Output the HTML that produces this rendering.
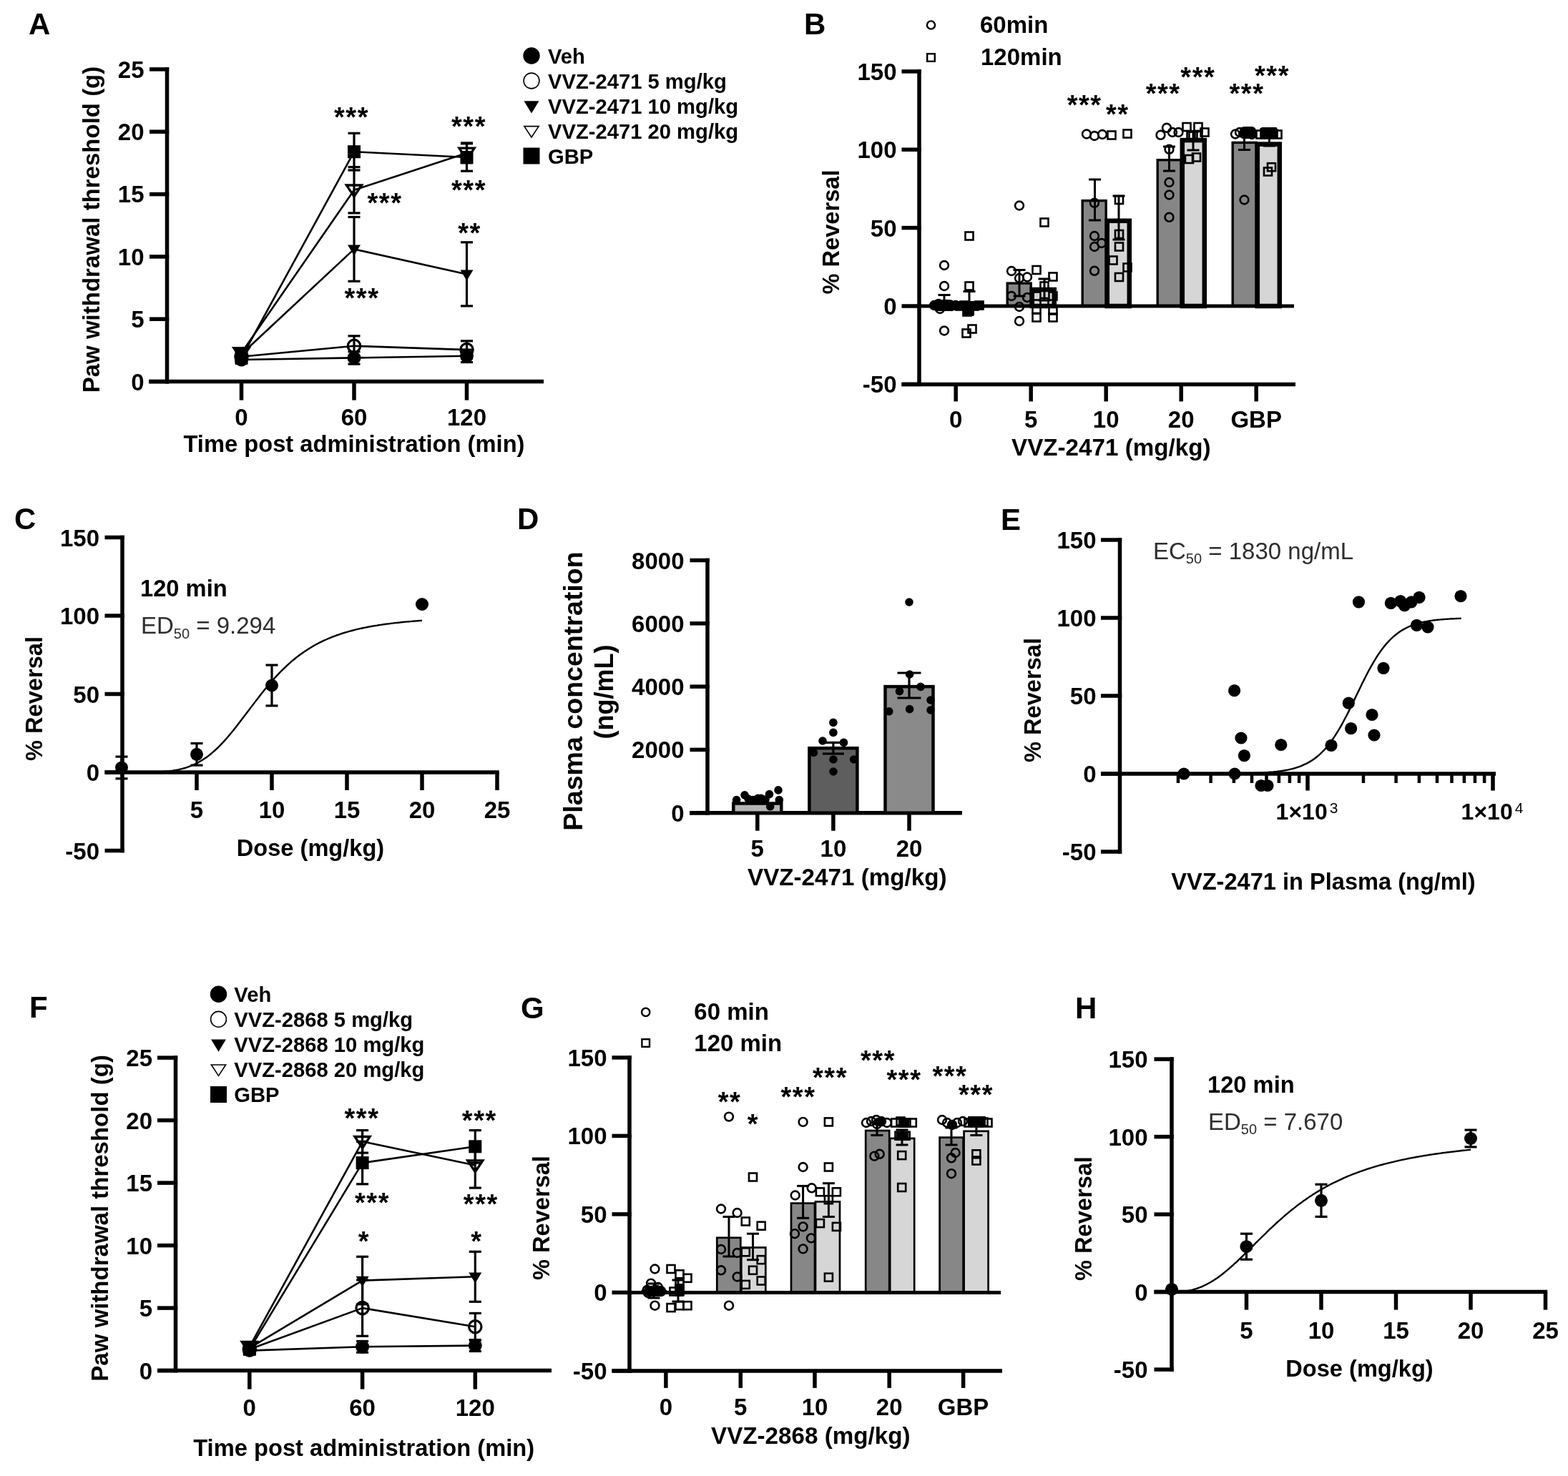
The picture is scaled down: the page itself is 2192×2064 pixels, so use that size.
<!DOCTYPE html>
<html><head><meta charset="utf-8"><title>Figure</title>
<style>html,body{margin:0;padding:0;background:#fff;}svg{display:block;filter:blur(0.55px);}</style></head>
<body><svg width="2192" height="2064" viewBox="0 0 2192 2064">
<rect width="2192" height="2064" fill="#fff"/>
<text x="40.0" y="47.5" text-anchor="start" style="font-family:'Liberation Sans',Arial,sans-serif;font-weight:bold;font-size:42px" fill="#000">A</text>
<line x1="233.5" y1="94.1" x2="233.5" y2="536.4" stroke="#000" stroke-width="5.5" stroke-linecap="butt"/>
<line x1="209.0" y1="533.6" x2="236.2" y2="533.6" stroke="#000" stroke-width="5.5" stroke-linecap="butt"/>
<text x="201.5" y="545.5" text-anchor="end" style="font-family:'Liberation Sans',Arial,sans-serif;font-weight:bold;font-size:33px" fill="#000">0</text>
<line x1="209.0" y1="446.2" x2="236.2" y2="446.2" stroke="#000" stroke-width="5.5" stroke-linecap="butt"/>
<text x="201.5" y="458.1" text-anchor="end" style="font-family:'Liberation Sans',Arial,sans-serif;font-weight:bold;font-size:33px" fill="#000">5</text>
<line x1="209.0" y1="358.9" x2="236.2" y2="358.9" stroke="#000" stroke-width="5.5" stroke-linecap="butt"/>
<text x="201.5" y="370.8" text-anchor="end" style="font-family:'Liberation Sans',Arial,sans-serif;font-weight:bold;font-size:33px" fill="#000">10</text>
<line x1="209.0" y1="271.6" x2="236.2" y2="271.6" stroke="#000" stroke-width="5.5" stroke-linecap="butt"/>
<text x="201.5" y="283.4" text-anchor="end" style="font-family:'Liberation Sans',Arial,sans-serif;font-weight:bold;font-size:33px" fill="#000">15</text>
<line x1="209.0" y1="184.2" x2="236.2" y2="184.2" stroke="#000" stroke-width="5.5" stroke-linecap="butt"/>
<text x="201.5" y="196.1" text-anchor="end" style="font-family:'Liberation Sans',Arial,sans-serif;font-weight:bold;font-size:33px" fill="#000">20</text>
<line x1="209.0" y1="96.9" x2="236.2" y2="96.9" stroke="#000" stroke-width="5.5" stroke-linecap="butt"/>
<text x="201.5" y="108.7" text-anchor="end" style="font-family:'Liberation Sans',Arial,sans-serif;font-weight:bold;font-size:33px" fill="#000">25</text>
<line x1="208.0" y1="533.6" x2="760.0" y2="533.6" stroke="#000" stroke-width="5.5" stroke-linecap="butt"/>
<line x1="337.5" y1="533.6" x2="337.5" y2="559.6" stroke="#000" stroke-width="5.5" stroke-linecap="butt"/>
<text x="337.5" y="595.0" text-anchor="middle" style="font-family:'Liberation Sans',Arial,sans-serif;font-weight:bold;font-size:33px" fill="#000">0</text>
<line x1="495.0" y1="533.6" x2="495.0" y2="559.6" stroke="#000" stroke-width="5.5" stroke-linecap="butt"/>
<text x="495.0" y="595.0" text-anchor="middle" style="font-family:'Liberation Sans',Arial,sans-serif;font-weight:bold;font-size:33px" fill="#000">60</text>
<line x1="652.5" y1="533.6" x2="652.5" y2="559.6" stroke="#000" stroke-width="5.5" stroke-linecap="butt"/>
<text x="652.5" y="595.0" text-anchor="middle" style="font-family:'Liberation Sans',Arial,sans-serif;font-weight:bold;font-size:33px" fill="#000">120</text>
<text x="495.0" y="632.0" text-anchor="middle" style="font-family:'Liberation Sans',Arial,sans-serif;font-weight:bold;font-size:32.7px" fill="#000">Time post administration (min)</text>
<text x="139.0" y="321.0" text-anchor="middle" style="font-family:'Liberation Sans',Arial,sans-serif;font-weight:bold;font-size:33px" fill="#000" transform="rotate(-90 139.0 321.0)">Paw withdrawal threshold (g)</text>
<circle cx="743.0" cy="78.0" r="11.7" fill="#000"/>
<text x="766.0" y="88.5" text-anchor="start" style="font-family:'Liberation Sans',Arial,sans-serif;font-weight:bold;font-size:29.2px" fill="#000">Veh</text>
<circle cx="743.0" cy="113.0" r="10.9" fill="none" stroke="#000" stroke-width="1.6"/>
<text x="766.0" y="123.5" text-anchor="start" style="font-family:'Liberation Sans',Arial,sans-serif;font-weight:bold;font-size:29.2px" fill="#000">VVZ-2471 5 mg/kg</text>
<polygon points="732.5,141.2 753.5,141.2 743.0,158.4" fill="#000"/>
<text x="766.0" y="158.5" text-anchor="start" style="font-family:'Liberation Sans',Arial,sans-serif;font-weight:bold;font-size:29.2px" fill="#000">VVZ-2471 10 mg/kg</text>
<polygon points="732.9,176.6 753.1,176.6 743.0,192.0" fill="none" stroke="#000" stroke-width="1.6" stroke-linejoin="miter"/>
<text x="766.0" y="193.5" text-anchor="start" style="font-family:'Liberation Sans',Arial,sans-serif;font-weight:bold;font-size:29.2px" fill="#000">VVZ-2471 20 mg/kg</text>
<rect x="731.5" y="206.5" width="23.0" height="23.0" fill="#000"/>
<text x="766.0" y="228.5" text-anchor="start" style="font-family:'Liberation Sans',Arial,sans-serif;font-weight:bold;font-size:29.2px" fill="#000">GBP</text>
<polyline points="337.5,503.0 495.0,500.4 652.5,497.8" fill="none" stroke="#000" stroke-width="2.6" stroke-linejoin="round"/>
<polyline points="337.5,498.7 495.0,483.8 652.5,489.1" fill="none" stroke="#000" stroke-width="2.6" stroke-linejoin="round"/>
<polyline points="337.5,495.2 495.0,348.4 652.5,383.4" fill="none" stroke="#000" stroke-width="2.6" stroke-linejoin="round"/>
<polyline points="337.5,493.4 495.0,265.8 652.5,213.9" fill="none" stroke="#000" stroke-width="2.6" stroke-linejoin="round"/>
<polyline points="337.5,500.4 495.0,212.2 652.5,220.0" fill="none" stroke="#000" stroke-width="2.6" stroke-linejoin="round"/>
<line x1="337.5" y1="497.8" x2="337.5" y2="508.3" stroke="#000" stroke-width="3.2" stroke-linecap="butt"/>
<line x1="329.0" y1="497.8" x2="346.0" y2="497.8" stroke="#000" stroke-width="3.2" stroke-linecap="butt"/>
<line x1="329.0" y1="508.3" x2="346.0" y2="508.3" stroke="#000" stroke-width="3.2" stroke-linecap="butt"/>
<line x1="495.0" y1="491.7" x2="495.0" y2="509.1" stroke="#000" stroke-width="3.2" stroke-linecap="butt"/>
<line x1="486.5" y1="491.7" x2="503.5" y2="491.7" stroke="#000" stroke-width="3.2" stroke-linecap="butt"/>
<line x1="486.5" y1="509.1" x2="503.5" y2="509.1" stroke="#000" stroke-width="3.2" stroke-linecap="butt"/>
<line x1="652.5" y1="489.1" x2="652.5" y2="506.5" stroke="#000" stroke-width="3.2" stroke-linecap="butt"/>
<line x1="644.0" y1="489.1" x2="661.0" y2="489.1" stroke="#000" stroke-width="3.2" stroke-linecap="butt"/>
<line x1="644.0" y1="506.5" x2="661.0" y2="506.5" stroke="#000" stroke-width="3.2" stroke-linecap="butt"/>
<line x1="337.5" y1="493.4" x2="337.5" y2="503.9" stroke="#000" stroke-width="3.2" stroke-linecap="butt"/>
<line x1="329.0" y1="493.4" x2="346.0" y2="493.4" stroke="#000" stroke-width="3.2" stroke-linecap="butt"/>
<line x1="329.0" y1="503.9" x2="346.0" y2="503.9" stroke="#000" stroke-width="3.2" stroke-linecap="butt"/>
<line x1="495.0" y1="469.8" x2="495.0" y2="497.8" stroke="#000" stroke-width="3.2" stroke-linecap="butt"/>
<line x1="486.5" y1="469.8" x2="503.5" y2="469.8" stroke="#000" stroke-width="3.2" stroke-linecap="butt"/>
<line x1="486.5" y1="497.8" x2="503.5" y2="497.8" stroke="#000" stroke-width="3.2" stroke-linecap="butt"/>
<line x1="652.5" y1="476.8" x2="652.5" y2="501.3" stroke="#000" stroke-width="3.2" stroke-linecap="butt"/>
<line x1="644.0" y1="476.8" x2="661.0" y2="476.8" stroke="#000" stroke-width="3.2" stroke-linecap="butt"/>
<line x1="644.0" y1="501.3" x2="661.0" y2="501.3" stroke="#000" stroke-width="3.2" stroke-linecap="butt"/>
<line x1="337.5" y1="489.9" x2="337.5" y2="500.4" stroke="#000" stroke-width="3.2" stroke-linecap="butt"/>
<line x1="329.0" y1="489.9" x2="346.0" y2="489.9" stroke="#000" stroke-width="3.2" stroke-linecap="butt"/>
<line x1="329.0" y1="500.4" x2="346.0" y2="500.4" stroke="#000" stroke-width="3.2" stroke-linecap="butt"/>
<line x1="495.0" y1="303.5" x2="495.0" y2="393.3" stroke="#000" stroke-width="3.2" stroke-linecap="butt"/>
<line x1="486.5" y1="303.5" x2="503.5" y2="303.5" stroke="#000" stroke-width="3.2" stroke-linecap="butt"/>
<line x1="486.5" y1="393.3" x2="503.5" y2="393.3" stroke="#000" stroke-width="3.2" stroke-linecap="butt"/>
<line x1="652.5" y1="338.8" x2="652.5" y2="427.9" stroke="#000" stroke-width="3.2" stroke-linecap="butt"/>
<line x1="644.0" y1="338.8" x2="661.0" y2="338.8" stroke="#000" stroke-width="3.2" stroke-linecap="butt"/>
<line x1="644.0" y1="427.9" x2="661.0" y2="427.9" stroke="#000" stroke-width="3.2" stroke-linecap="butt"/>
<line x1="337.5" y1="488.2" x2="337.5" y2="498.7" stroke="#000" stroke-width="3.2" stroke-linecap="butt"/>
<line x1="329.0" y1="488.2" x2="346.0" y2="488.2" stroke="#000" stroke-width="3.2" stroke-linecap="butt"/>
<line x1="329.0" y1="498.7" x2="346.0" y2="498.7" stroke="#000" stroke-width="3.2" stroke-linecap="butt"/>
<line x1="495.0" y1="233.6" x2="495.0" y2="297.9" stroke="#000" stroke-width="3.2" stroke-linecap="butt"/>
<line x1="486.5" y1="233.6" x2="503.5" y2="233.6" stroke="#000" stroke-width="3.2" stroke-linecap="butt"/>
<line x1="486.5" y1="297.9" x2="503.5" y2="297.9" stroke="#000" stroke-width="3.2" stroke-linecap="butt"/>
<line x1="652.5" y1="199.9" x2="652.5" y2="227.9" stroke="#000" stroke-width="3.2" stroke-linecap="butt"/>
<line x1="644.0" y1="199.9" x2="661.0" y2="199.9" stroke="#000" stroke-width="3.2" stroke-linecap="butt"/>
<line x1="644.0" y1="227.9" x2="661.0" y2="227.9" stroke="#000" stroke-width="3.2" stroke-linecap="butt"/>
<line x1="337.5" y1="495.2" x2="337.5" y2="505.6" stroke="#000" stroke-width="3.2" stroke-linecap="butt"/>
<line x1="329.0" y1="495.2" x2="346.0" y2="495.2" stroke="#000" stroke-width="3.2" stroke-linecap="butt"/>
<line x1="329.0" y1="505.6" x2="346.0" y2="505.6" stroke="#000" stroke-width="3.2" stroke-linecap="butt"/>
<line x1="495.0" y1="186.3" x2="495.0" y2="238.0" stroke="#000" stroke-width="3.2" stroke-linecap="butt"/>
<line x1="486.5" y1="186.3" x2="503.5" y2="186.3" stroke="#000" stroke-width="3.2" stroke-linecap="butt"/>
<line x1="486.5" y1="238.0" x2="503.5" y2="238.0" stroke="#000" stroke-width="3.2" stroke-linecap="butt"/>
<line x1="652.5" y1="200.8" x2="652.5" y2="239.2" stroke="#000" stroke-width="3.2" stroke-linecap="butt"/>
<line x1="644.0" y1="200.8" x2="661.0" y2="200.8" stroke="#000" stroke-width="3.2" stroke-linecap="butt"/>
<line x1="644.0" y1="239.2" x2="661.0" y2="239.2" stroke="#000" stroke-width="3.2" stroke-linecap="butt"/>
<circle cx="337.5" cy="503.0" r="9.5" fill="#000"/>
<circle cx="495.0" cy="500.4" r="9.5" fill="#000"/>
<circle cx="652.5" cy="497.8" r="9.5" fill="#000"/>
<circle cx="337.5" cy="498.7" r="8.7" fill="none" stroke="#000" stroke-width="3.2"/>
<circle cx="495.0" cy="483.8" r="8.7" fill="none" stroke="#000" stroke-width="3.2"/>
<circle cx="652.5" cy="489.1" r="8.7" fill="none" stroke="#000" stroke-width="3.2"/>
<polygon points="328.5,489.3 346.5,489.3 337.5,504.2" fill="#000"/>
<polygon points="486.0,342.5 504.0,342.5 495.0,357.4" fill="#000"/>
<polygon points="643.5,377.5 661.5,377.5 652.5,392.4" fill="#000"/>
<polygon points="326.9,486.6 348.1,486.6 337.5,502.5" fill="none" stroke="#000" stroke-width="3.3" stroke-linejoin="miter"/>
<polygon points="484.4,259.0 505.6,259.0 495.0,274.9" fill="none" stroke="#000" stroke-width="3.3" stroke-linejoin="miter"/>
<polygon points="641.9,207.1 663.1,207.1 652.5,223.0" fill="none" stroke="#000" stroke-width="3.3" stroke-linejoin="miter"/>
<rect x="328.5" y="491.4" width="18.0" height="18.0" fill="#000"/>
<rect x="486.0" y="203.2" width="18.0" height="18.0" fill="#000"/>
<rect x="643.5" y="211.0" width="18.0" height="18.0" fill="#000"/>
<text x="491.5" y="177.4" text-anchor="middle" style="font-family:'Liberation Sans',Arial,sans-serif;font-weight:bold;font-size:38px" fill="#000" letter-spacing="1.5">***</text>
<text x="538.0" y="297.3" text-anchor="middle" style="font-family:'Liberation Sans',Arial,sans-serif;font-weight:bold;font-size:38px" fill="#000" letter-spacing="1.5">***</text>
<text x="506.0" y="429.8" text-anchor="middle" style="font-family:'Liberation Sans',Arial,sans-serif;font-weight:bold;font-size:38px" fill="#000" letter-spacing="1.5">***</text>
<text x="655.5" y="189.9" text-anchor="middle" style="font-family:'Liberation Sans',Arial,sans-serif;font-weight:bold;font-size:38px" fill="#000" letter-spacing="1.5">***</text>
<text x="655.5" y="279.3" text-anchor="middle" style="font-family:'Liberation Sans',Arial,sans-serif;font-weight:bold;font-size:38px" fill="#000" letter-spacing="1.5">***</text>
<text x="656.5" y="338.6" text-anchor="middle" style="font-family:'Liberation Sans',Arial,sans-serif;font-weight:bold;font-size:38px" fill="#000" letter-spacing="1.5">**</text>
<text x="1124.0" y="47.5" text-anchor="start" style="font-family:'Liberation Sans',Arial,sans-serif;font-weight:bold;font-size:42px" fill="#000">B</text>
<circle cx="1301.5" cy="35.0" r="5.6" fill="none" stroke="#000" stroke-width="2.4"/>
<text x="1370.0" y="45.5" text-anchor="start" style="font-family:'Liberation Sans',Arial,sans-serif;font-weight:bold;font-size:33px" fill="#000">60min</text>
<rect x="1296.2" y="75.2" width="10.6" height="10.6" fill="none" stroke="#000" stroke-width="2.4"/>
<text x="1371.0" y="91.0" text-anchor="start" style="font-family:'Liberation Sans',Arial,sans-serif;font-weight:bold;font-size:33px" fill="#000">120min</text>
<line x1="1285.0" y1="97.1" x2="1285.0" y2="540.1" stroke="#000" stroke-width="5.5" stroke-linecap="butt"/>
<line x1="1260.5" y1="99.9" x2="1287.8" y2="99.9" stroke="#000" stroke-width="5.5" stroke-linecap="butt"/>
<text x="1253.5" y="111.9" text-anchor="end" style="font-family:'Liberation Sans',Arial,sans-serif;font-weight:bold;font-size:33px" fill="#000">150</text>
<line x1="1260.5" y1="209.2" x2="1287.8" y2="209.2" stroke="#000" stroke-width="5.5" stroke-linecap="butt"/>
<text x="1253.5" y="221.2" text-anchor="end" style="font-family:'Liberation Sans',Arial,sans-serif;font-weight:bold;font-size:33px" fill="#000">100</text>
<line x1="1260.5" y1="318.6" x2="1287.8" y2="318.6" stroke="#000" stroke-width="5.5" stroke-linecap="butt"/>
<text x="1253.5" y="330.6" text-anchor="end" style="font-family:'Liberation Sans',Arial,sans-serif;font-weight:bold;font-size:33px" fill="#000">50</text>
<line x1="1260.5" y1="428.0" x2="1287.8" y2="428.0" stroke="#000" stroke-width="5.5" stroke-linecap="butt"/>
<text x="1253.5" y="440.0" text-anchor="end" style="font-family:'Liberation Sans',Arial,sans-serif;font-weight:bold;font-size:33px" fill="#000">0</text>
<line x1="1260.5" y1="537.4" x2="1287.8" y2="537.4" stroke="#000" stroke-width="5.5" stroke-linecap="butt"/>
<text x="1253.5" y="549.4" text-anchor="end" style="font-family:'Liberation Sans',Arial,sans-serif;font-weight:bold;font-size:33px" fill="#000">-50</text>
<line x1="1260.5" y1="537.4" x2="1811.0" y2="537.4" stroke="#000" stroke-width="5.5" stroke-linecap="butt"/>
<line x1="1336.2" y1="537.4" x2="1336.2" y2="561.4" stroke="#000" stroke-width="5.5" stroke-linecap="butt"/>
<text x="1336.2" y="597.5" text-anchor="middle" style="font-family:'Liberation Sans',Arial,sans-serif;font-weight:bold;font-size:33px" fill="#000">0</text>
<line x1="1441.2" y1="537.4" x2="1441.2" y2="561.4" stroke="#000" stroke-width="5.5" stroke-linecap="butt"/>
<text x="1441.2" y="597.5" text-anchor="middle" style="font-family:'Liberation Sans',Arial,sans-serif;font-weight:bold;font-size:33px" fill="#000">5</text>
<line x1="1546.2" y1="537.4" x2="1546.2" y2="561.4" stroke="#000" stroke-width="5.5" stroke-linecap="butt"/>
<text x="1546.2" y="597.5" text-anchor="middle" style="font-family:'Liberation Sans',Arial,sans-serif;font-weight:bold;font-size:33px" fill="#000">10</text>
<line x1="1651.2" y1="537.4" x2="1651.2" y2="561.4" stroke="#000" stroke-width="5.5" stroke-linecap="butt"/>
<text x="1651.2" y="597.5" text-anchor="middle" style="font-family:'Liberation Sans',Arial,sans-serif;font-weight:bold;font-size:33px" fill="#000">20</text>
<line x1="1756.2" y1="537.4" x2="1756.2" y2="561.4" stroke="#000" stroke-width="5.5" stroke-linecap="butt"/>
<text x="1756.2" y="597.5" text-anchor="middle" style="font-family:'Liberation Sans',Arial,sans-serif;font-weight:bold;font-size:33px" fill="#000">GBP</text>
<rect x="1303.2" y="424.7" width="33.0" height="3.3" fill="#868686" stroke="#000" stroke-width="3.4"/>
<rect x="1337.8" y="426.9" width="31.0" height="1.1" fill="#d6d6d6" stroke="#000" stroke-width="6.5"/>
<rect x="1408.2" y="396.1" width="33.0" height="31.9" fill="#868686" stroke="#000" stroke-width="3.4"/>
<rect x="1442.8" y="405.0" width="31.0" height="23.0" fill="#d6d6d6" stroke="#000" stroke-width="6.5"/>
<rect x="1513.2" y="280.6" width="33.0" height="147.4" fill="#868686" stroke="#000" stroke-width="3.4"/>
<rect x="1547.8" y="308.8" width="31.0" height="119.2" fill="#d6d6d6" stroke="#000" stroke-width="6.5"/>
<rect x="1618.2" y="223.7" width="33.0" height="204.3" fill="#868686" stroke="#000" stroke-width="3.4"/>
<rect x="1652.8" y="196.1" width="31.0" height="231.9" fill="#d6d6d6" stroke="#000" stroke-width="6.5"/>
<rect x="1723.2" y="199.4" width="33.0" height="228.6" fill="#868686" stroke="#000" stroke-width="3.4"/>
<rect x="1757.8" y="201.6" width="31.0" height="226.4" fill="#d6d6d6" stroke="#000" stroke-width="6.5"/>
<line x1="1285.0" y1="428.0" x2="1809.0" y2="428.0" stroke="#000" stroke-width="5" stroke-linecap="butt"/>
<rect x="1303" y="419" width="32" height="16" rx="7" fill="#000"/>
<rect x="1337" y="421" width="37" height="12" rx="2" fill="#000"/>
<rect x="1346" y="431" width="16" height="11" rx="2" fill="#000"/>
<rect x="1733" y="177" width="23" height="17" rx="6" fill="#000"/>
<rect x="1763" y="178" width="22" height="16" rx="1" fill="#000"/>
<circle cx="1320.0" cy="371.0" r="5.9" fill="none" stroke="#000" stroke-width="2.6"/>
<circle cx="1320.0" cy="400.0" r="5.9" fill="none" stroke="#000" stroke-width="2.6"/>
<circle cx="1320.0" cy="462.5" r="5.9" fill="none" stroke="#000" stroke-width="2.6"/>
<circle cx="1306.0" cy="427.0" r="5.9" fill="none" stroke="#000" stroke-width="2.6"/>
<circle cx="1312.0" cy="425.0" r="5.9" fill="none" stroke="#000" stroke-width="2.6"/>
<circle cx="1318.0" cy="428.0" r="5.9" fill="none" stroke="#000" stroke-width="2.6"/>
<circle cx="1324.0" cy="426.0" r="5.9" fill="none" stroke="#000" stroke-width="2.6"/>
<circle cx="1330.0" cy="428.0" r="5.9" fill="none" stroke="#000" stroke-width="2.6"/>
<circle cx="1336.0" cy="427.0" r="5.9" fill="none" stroke="#000" stroke-width="2.6"/>
<circle cx="1314.0" cy="432.0" r="5.9" fill="none" stroke="#000" stroke-width="2.6"/>
<circle cx="1425.0" cy="287.5" r="5.9" fill="none" stroke="#000" stroke-width="2.6"/>
<circle cx="1414.0" cy="379.0" r="5.9" fill="none" stroke="#000" stroke-width="2.6"/>
<circle cx="1425.0" cy="389.0" r="5.9" fill="none" stroke="#000" stroke-width="2.6"/>
<circle cx="1436.0" cy="387.5" r="5.9" fill="none" stroke="#000" stroke-width="2.6"/>
<circle cx="1414.0" cy="414.0" r="5.9" fill="none" stroke="#000" stroke-width="2.6"/>
<circle cx="1436.0" cy="416.0" r="5.9" fill="none" stroke="#000" stroke-width="2.6"/>
<circle cx="1425.0" cy="429.0" r="5.9" fill="none" stroke="#000" stroke-width="2.6"/>
<circle cx="1425.0" cy="449.0" r="5.9" fill="none" stroke="#000" stroke-width="2.6"/>
<circle cx="1519.0" cy="187.5" r="5.9" fill="none" stroke="#000" stroke-width="2.6"/>
<circle cx="1530.0" cy="190.0" r="5.9" fill="none" stroke="#000" stroke-width="2.6"/>
<circle cx="1541.0" cy="188.0" r="5.9" fill="none" stroke="#000" stroke-width="2.6"/>
<circle cx="1530.0" cy="283.8" r="5.9" fill="none" stroke="#000" stroke-width="2.6"/>
<circle cx="1530.0" cy="330.0" r="5.9" fill="none" stroke="#000" stroke-width="2.6"/>
<circle cx="1540.0" cy="340.0" r="5.9" fill="none" stroke="#000" stroke-width="2.6"/>
<circle cx="1530.0" cy="345.0" r="5.9" fill="none" stroke="#000" stroke-width="2.6"/>
<circle cx="1530.0" cy="378.8" r="5.9" fill="none" stroke="#000" stroke-width="2.6"/>
<circle cx="1622.5" cy="188.8" r="5.9" fill="none" stroke="#000" stroke-width="2.6"/>
<circle cx="1631.0" cy="178.8" r="5.9" fill="none" stroke="#000" stroke-width="2.6"/>
<circle cx="1639.0" cy="185.0" r="5.9" fill="none" stroke="#000" stroke-width="2.6"/>
<circle cx="1647.5" cy="185.0" r="5.9" fill="none" stroke="#000" stroke-width="2.6"/>
<circle cx="1634.5" cy="208.8" r="5.9" fill="none" stroke="#000" stroke-width="2.6"/>
<circle cx="1634.5" cy="255.0" r="5.9" fill="none" stroke="#000" stroke-width="2.6"/>
<circle cx="1634.5" cy="272.5" r="5.9" fill="none" stroke="#000" stroke-width="2.6"/>
<circle cx="1634.5" cy="303.8" r="5.9" fill="none" stroke="#000" stroke-width="2.6"/>
<circle cx="1727.0" cy="187.5" r="5.9" fill="none" stroke="#000" stroke-width="2.6"/>
<circle cx="1733.0" cy="185.0" r="5.9" fill="none" stroke="#000" stroke-width="2.6"/>
<circle cx="1739.0" cy="187.0" r="5.9" fill="none" stroke="#000" stroke-width="2.6"/>
<circle cx="1745.0" cy="185.0" r="5.9" fill="none" stroke="#000" stroke-width="2.6"/>
<circle cx="1750.0" cy="188.0" r="5.9" fill="none" stroke="#000" stroke-width="2.6"/>
<circle cx="1739.5" cy="279.5" r="5.9" fill="none" stroke="#000" stroke-width="2.6"/>
<rect x="1349.5" y="324.5" width="11.0" height="11.0" fill="none" stroke="#000" stroke-width="2.6"/>
<rect x="1349.5" y="394.5" width="11.0" height="11.0" fill="none" stroke="#000" stroke-width="2.6"/>
<rect x="1345.5" y="460.5" width="11.0" height="11.0" fill="none" stroke="#000" stroke-width="2.6"/>
<rect x="1353.5" y="454.5" width="11.0" height="11.0" fill="none" stroke="#000" stroke-width="2.6"/>
<rect x="1336.5" y="422.5" width="11.0" height="11.0" fill="none" stroke="#000" stroke-width="2.6"/>
<rect x="1342.5" y="421.5" width="11.0" height="11.0" fill="none" stroke="#000" stroke-width="2.6"/>
<rect x="1349.5" y="426.5" width="11.0" height="11.0" fill="none" stroke="#000" stroke-width="2.6"/>
<rect x="1356.5" y="422.5" width="11.0" height="11.0" fill="none" stroke="#000" stroke-width="2.6"/>
<rect x="1363.5" y="421.5" width="11.0" height="11.0" fill="none" stroke="#000" stroke-width="2.6"/>
<rect x="1346.5" y="430.5" width="11.0" height="11.0" fill="none" stroke="#000" stroke-width="2.6"/>
<rect x="1454.5" y="305.5" width="11.0" height="11.0" fill="none" stroke="#000" stroke-width="2.6"/>
<rect x="1443.5" y="372.0" width="11.0" height="11.0" fill="none" stroke="#000" stroke-width="2.6"/>
<rect x="1466.5" y="381.5" width="11.0" height="11.0" fill="none" stroke="#000" stroke-width="2.6"/>
<rect x="1454.5" y="394.5" width="11.0" height="11.0" fill="none" stroke="#000" stroke-width="2.6"/>
<rect x="1443.5" y="408.5" width="11.0" height="11.0" fill="none" stroke="#000" stroke-width="2.6"/>
<rect x="1466.5" y="408.5" width="11.0" height="11.0" fill="none" stroke="#000" stroke-width="2.6"/>
<rect x="1454.5" y="417.0" width="11.0" height="11.0" fill="none" stroke="#000" stroke-width="2.6"/>
<rect x="1443.5" y="427.0" width="11.0" height="11.0" fill="none" stroke="#000" stroke-width="2.6"/>
<rect x="1466.5" y="428.5" width="11.0" height="11.0" fill="none" stroke="#000" stroke-width="2.6"/>
<rect x="1443.5" y="438.5" width="11.0" height="11.0" fill="none" stroke="#000" stroke-width="2.6"/>
<rect x="1466.5" y="438.5" width="11.0" height="11.0" fill="none" stroke="#000" stroke-width="2.6"/>
<rect x="1548.5" y="183.5" width="11.0" height="11.0" fill="none" stroke="#000" stroke-width="2.6"/>
<rect x="1570.5" y="181.5" width="11.0" height="11.0" fill="none" stroke="#000" stroke-width="2.6"/>
<rect x="1559.0" y="274.0" width="11.0" height="11.0" fill="none" stroke="#000" stroke-width="2.6"/>
<rect x="1559.0" y="322.0" width="11.0" height="11.0" fill="none" stroke="#000" stroke-width="2.6"/>
<rect x="1559.0" y="339.5" width="11.0" height="11.0" fill="none" stroke="#000" stroke-width="2.6"/>
<rect x="1550.5" y="358.5" width="11.0" height="11.0" fill="none" stroke="#000" stroke-width="2.6"/>
<rect x="1570.5" y="368.5" width="11.0" height="11.0" fill="none" stroke="#000" stroke-width="2.6"/>
<rect x="1559.0" y="382.0" width="11.0" height="11.0" fill="none" stroke="#000" stroke-width="2.6"/>
<rect x="1653.5" y="172.0" width="11.0" height="11.0" fill="none" stroke="#000" stroke-width="2.6"/>
<rect x="1669.5" y="172.0" width="11.0" height="11.0" fill="none" stroke="#000" stroke-width="2.6"/>
<rect x="1659.5" y="183.2" width="11.0" height="11.0" fill="none" stroke="#000" stroke-width="2.6"/>
<rect x="1669.5" y="183.2" width="11.0" height="11.0" fill="none" stroke="#000" stroke-width="2.6"/>
<rect x="1678.5" y="179.5" width="11.0" height="11.0" fill="none" stroke="#000" stroke-width="2.6"/>
<rect x="1657.0" y="217.0" width="11.0" height="11.0" fill="none" stroke="#000" stroke-width="2.6"/>
<rect x="1667.0" y="214.5" width="11.0" height="11.0" fill="none" stroke="#000" stroke-width="2.6"/>
<rect x="1662.5" y="184.5" width="11.0" height="11.0" fill="none" stroke="#000" stroke-width="2.6"/>
<rect x="1756.5" y="182.5" width="11.0" height="11.0" fill="none" stroke="#000" stroke-width="2.6"/>
<rect x="1762.5" y="180.5" width="11.0" height="11.0" fill="none" stroke="#000" stroke-width="2.6"/>
<rect x="1768.5" y="182.5" width="11.0" height="11.0" fill="none" stroke="#000" stroke-width="2.6"/>
<rect x="1774.5" y="181.5" width="11.0" height="11.0" fill="none" stroke="#000" stroke-width="2.6"/>
<rect x="1780.5" y="182.5" width="11.0" height="11.0" fill="none" stroke="#000" stroke-width="2.6"/>
<rect x="1767.0" y="234.5" width="11.0" height="11.0" fill="none" stroke="#000" stroke-width="2.6"/>
<rect x="1772.0" y="228.2" width="11.0" height="11.0" fill="none" stroke="#000" stroke-width="2.6"/>
<line x1="1320.0" y1="412.5" x2="1320.0" y2="431.0" stroke="#000" stroke-width="3" stroke-linecap="butt"/>
<line x1="1311.5" y1="412.5" x2="1328.5" y2="412.5" stroke="#000" stroke-width="3" stroke-linecap="butt"/>
<line x1="1311.5" y1="431.0" x2="1328.5" y2="431.0" stroke="#000" stroke-width="3" stroke-linecap="butt"/>
<line x1="1355.0" y1="407.5" x2="1355.0" y2="430.0" stroke="#000" stroke-width="3" stroke-linecap="butt"/>
<line x1="1346.5" y1="407.5" x2="1363.5" y2="407.5" stroke="#000" stroke-width="3" stroke-linecap="butt"/>
<line x1="1346.5" y1="430.0" x2="1363.5" y2="430.0" stroke="#000" stroke-width="3" stroke-linecap="butt"/>
<line x1="1425.0" y1="377.5" x2="1425.0" y2="414.0" stroke="#000" stroke-width="3" stroke-linecap="butt"/>
<line x1="1416.5" y1="377.5" x2="1433.5" y2="377.5" stroke="#000" stroke-width="3" stroke-linecap="butt"/>
<line x1="1416.5" y1="414.0" x2="1433.5" y2="414.0" stroke="#000" stroke-width="3" stroke-linecap="butt"/>
<line x1="1460.0" y1="390.0" x2="1460.0" y2="420.0" stroke="#000" stroke-width="3" stroke-linecap="butt"/>
<line x1="1451.5" y1="390.0" x2="1468.5" y2="390.0" stroke="#000" stroke-width="3" stroke-linecap="butt"/>
<line x1="1451.5" y1="420.0" x2="1468.5" y2="420.0" stroke="#000" stroke-width="3" stroke-linecap="butt"/>
<line x1="1530.5" y1="251.0" x2="1530.5" y2="308.0" stroke="#000" stroke-width="3" stroke-linecap="butt"/>
<line x1="1522.0" y1="251.0" x2="1539.0" y2="251.0" stroke="#000" stroke-width="3" stroke-linecap="butt"/>
<line x1="1522.0" y1="308.0" x2="1539.0" y2="308.0" stroke="#000" stroke-width="3" stroke-linecap="butt"/>
<line x1="1564.0" y1="274.0" x2="1564.0" y2="335.0" stroke="#000" stroke-width="3" stroke-linecap="butt"/>
<line x1="1555.5" y1="274.0" x2="1572.5" y2="274.0" stroke="#000" stroke-width="3" stroke-linecap="butt"/>
<line x1="1555.5" y1="335.0" x2="1572.5" y2="335.0" stroke="#000" stroke-width="3" stroke-linecap="butt"/>
<line x1="1634.5" y1="205.0" x2="1634.5" y2="239.0" stroke="#000" stroke-width="3" stroke-linecap="butt"/>
<line x1="1626.0" y1="205.0" x2="1643.0" y2="205.0" stroke="#000" stroke-width="3" stroke-linecap="butt"/>
<line x1="1626.0" y1="239.0" x2="1643.0" y2="239.0" stroke="#000" stroke-width="3" stroke-linecap="butt"/>
<line x1="1668.0" y1="184.0" x2="1668.0" y2="210.0" stroke="#000" stroke-width="3" stroke-linecap="butt"/>
<line x1="1659.5" y1="184.0" x2="1676.5" y2="184.0" stroke="#000" stroke-width="3" stroke-linecap="butt"/>
<line x1="1659.5" y1="210.0" x2="1676.5" y2="210.0" stroke="#000" stroke-width="3" stroke-linecap="butt"/>
<line x1="1739.5" y1="187.5" x2="1739.5" y2="209.5" stroke="#000" stroke-width="3" stroke-linecap="butt"/>
<line x1="1731.0" y1="187.5" x2="1748.0" y2="187.5" stroke="#000" stroke-width="3" stroke-linecap="butt"/>
<line x1="1731.0" y1="209.5" x2="1748.0" y2="209.5" stroke="#000" stroke-width="3" stroke-linecap="butt"/>
<line x1="1774.5" y1="188.0" x2="1774.5" y2="204.0" stroke="#000" stroke-width="3" stroke-linecap="butt"/>
<line x1="1766.0" y1="188.0" x2="1783.0" y2="188.0" stroke="#000" stroke-width="3" stroke-linecap="butt"/>
<line x1="1766.0" y1="204.0" x2="1783.0" y2="204.0" stroke="#000" stroke-width="3" stroke-linecap="butt"/>
<text x="1516.1" y="159.9" text-anchor="middle" style="font-family:'Liberation Sans',Arial,sans-serif;font-weight:bold;font-size:38px" fill="#000" letter-spacing="1.5">***</text>
<text x="1562.2" y="172.9" text-anchor="middle" style="font-family:'Liberation Sans',Arial,sans-serif;font-weight:bold;font-size:38px" fill="#000" letter-spacing="1.5">**</text>
<text x="1626.1" y="144.2" text-anchor="middle" style="font-family:'Liberation Sans',Arial,sans-serif;font-weight:bold;font-size:38px" fill="#000" letter-spacing="1.5">***</text>
<text x="1674.8" y="120.5" text-anchor="middle" style="font-family:'Liberation Sans',Arial,sans-serif;font-weight:bold;font-size:38px" fill="#000" letter-spacing="1.5">***</text>
<text x="1743.0" y="144.2" text-anchor="middle" style="font-family:'Liberation Sans',Arial,sans-serif;font-weight:bold;font-size:38px" fill="#000" letter-spacing="1.5">***</text>
<text x="1778.5" y="119.2" text-anchor="middle" style="font-family:'Liberation Sans',Arial,sans-serif;font-weight:bold;font-size:38px" fill="#000" letter-spacing="1.5">***</text>
<text x="1414.0" y="637.0" text-anchor="start" style="font-family:'Liberation Sans',Arial,sans-serif;font-weight:bold;font-size:33.2px" fill="#000">VVZ-2471 (mg/kg)</text>
<text x="1173.0" y="324.5" text-anchor="middle" style="font-family:'Liberation Sans',Arial,sans-serif;font-weight:bold;font-size:32.6px" fill="#000" transform="rotate(-90 1173.0 324.5)">% Reversal</text>
<text x="20.0" y="740.0" text-anchor="start" style="font-family:'Liberation Sans',Arial,sans-serif;font-weight:bold;font-size:42px" fill="#000">C</text>
<line x1="171.0" y1="748.8" x2="171.0" y2="1192.2" stroke="#000" stroke-width="5.5" stroke-linecap="butt"/>
<line x1="146.5" y1="751.5" x2="173.8" y2="751.5" stroke="#000" stroke-width="5.5" stroke-linecap="butt"/>
<text x="139.0" y="763.5" text-anchor="end" style="font-family:'Liberation Sans',Arial,sans-serif;font-weight:bold;font-size:33px" fill="#000">150</text>
<line x1="146.5" y1="861.0" x2="173.8" y2="861.0" stroke="#000" stroke-width="5.5" stroke-linecap="butt"/>
<text x="139.0" y="873.0" text-anchor="end" style="font-family:'Liberation Sans',Arial,sans-serif;font-weight:bold;font-size:33px" fill="#000">100</text>
<line x1="146.5" y1="970.5" x2="173.8" y2="970.5" stroke="#000" stroke-width="5.5" stroke-linecap="butt"/>
<text x="139.0" y="982.5" text-anchor="end" style="font-family:'Liberation Sans',Arial,sans-serif;font-weight:bold;font-size:33px" fill="#000">50</text>
<line x1="146.5" y1="1080.0" x2="173.8" y2="1080.0" stroke="#000" stroke-width="5.5" stroke-linecap="butt"/>
<text x="139.0" y="1092.0" text-anchor="end" style="font-family:'Liberation Sans',Arial,sans-serif;font-weight:bold;font-size:33px" fill="#000">0</text>
<line x1="146.5" y1="1189.5" x2="173.8" y2="1189.5" stroke="#000" stroke-width="5.5" stroke-linecap="butt"/>
<text x="139.0" y="1201.5" text-anchor="end" style="font-family:'Liberation Sans',Arial,sans-serif;font-weight:bold;font-size:33px" fill="#000">-50</text>
<line x1="146.5" y1="1080.0" x2="697.8" y2="1080.0" stroke="#000" stroke-width="5.5" stroke-linecap="butt"/>
<line x1="275.0" y1="1080.0" x2="275.0" y2="1105.0" stroke="#000" stroke-width="5.5" stroke-linecap="butt"/>
<text x="275.0" y="1144.0" text-anchor="middle" style="font-family:'Liberation Sans',Arial,sans-serif;font-weight:bold;font-size:33px" fill="#000">5</text>
<line x1="380.0" y1="1080.0" x2="380.0" y2="1105.0" stroke="#000" stroke-width="5.5" stroke-linecap="butt"/>
<text x="380.0" y="1144.0" text-anchor="middle" style="font-family:'Liberation Sans',Arial,sans-serif;font-weight:bold;font-size:33px" fill="#000">10</text>
<line x1="485.0" y1="1080.0" x2="485.0" y2="1105.0" stroke="#000" stroke-width="5.5" stroke-linecap="butt"/>
<text x="485.0" y="1144.0" text-anchor="middle" style="font-family:'Liberation Sans',Arial,sans-serif;font-weight:bold;font-size:33px" fill="#000">15</text>
<line x1="590.0" y1="1080.0" x2="590.0" y2="1105.0" stroke="#000" stroke-width="5.5" stroke-linecap="butt"/>
<text x="590.0" y="1144.0" text-anchor="middle" style="font-family:'Liberation Sans',Arial,sans-serif;font-weight:bold;font-size:33px" fill="#000">20</text>
<line x1="695.0" y1="1080.0" x2="695.0" y2="1105.0" stroke="#000" stroke-width="5.5" stroke-linecap="butt"/>
<text x="695.0" y="1144.0" text-anchor="middle" style="font-family:'Liberation Sans',Arial,sans-serif;font-weight:bold;font-size:33px" fill="#000">25</text>
<polyline points="212.0,1079.8 214.1,1079.7 216.2,1079.7 218.3,1079.6 220.4,1079.5 222.5,1079.4 224.6,1079.3 226.7,1079.2 228.8,1079.0 230.9,1078.8 233.0,1078.7 235.1,1078.4 237.2,1078.2 239.3,1077.9 241.4,1077.7 243.5,1077.3 245.6,1077.0 247.7,1076.6 249.8,1076.2 251.9,1075.7 254.0,1075.2 256.1,1074.6 258.2,1074.0 260.3,1073.4 262.4,1072.7 264.5,1071.9 266.6,1071.1 268.7,1070.3 270.8,1069.3 272.9,1068.4 275.0,1067.3 277.1,1066.2 279.2,1065.0 281.3,1063.8 283.4,1062.5 285.5,1061.1 287.6,1059.7 289.7,1058.2 291.8,1056.6 293.9,1054.9 296.0,1053.2 298.1,1051.4 300.2,1049.5 302.3,1047.6 304.4,1045.6 306.5,1043.5 308.6,1041.3 310.7,1039.1 312.8,1036.9 314.9,1034.6 317.0,1032.2 319.1,1029.8 321.2,1027.3 323.3,1024.8 325.4,1022.2 327.5,1019.6 329.6,1016.9 331.7,1014.3 333.8,1011.6 335.9,1008.8 338.0,1006.1 340.1,1003.3 342.2,1000.6 344.3,997.8 346.4,995.0 348.5,992.2 350.6,989.4 352.7,986.7 354.8,983.9 356.9,981.1 359.0,978.4 361.1,975.7 363.2,973.0 365.3,970.3 367.4,967.7 369.5,965.1 371.6,962.5 373.7,960.0 375.8,957.5 377.9,955.0 380.0,952.6 382.1,950.2 384.2,947.9 386.3,945.6 388.4,943.4 390.5,941.2 392.6,939.0 394.7,936.9 396.8,934.8 398.9,932.8 401.0,930.9 403.1,928.9 405.2,927.1 407.3,925.2 409.4,923.4 411.5,921.7 413.6,920.0 415.7,918.4 417.8,916.8 419.9,915.2 422.0,913.7 424.1,912.2 426.2,910.8 428.3,909.4 430.4,908.0 432.5,906.7 434.6,905.4 436.7,904.1 438.8,902.9 440.9,901.8 443.0,900.6 445.1,899.5 447.2,898.4 449.3,897.4 451.4,896.4 453.5,895.4 455.6,894.5 457.7,893.5 459.8,892.6 461.9,891.8 464.0,890.9 466.1,890.1 468.2,889.3 470.3,888.5 472.4,887.8 474.5,887.1 476.6,886.4 478.7,885.7 480.8,885.0 482.9,884.4 485.0,883.8 487.1,883.2 489.2,882.6 491.3,882.0 493.4,881.5 495.5,880.9 497.6,880.4 499.7,879.9 501.8,879.4 503.9,878.9 506.0,878.5 508.1,878.0 510.2,877.6 512.3,877.2 514.4,876.8 516.5,876.4 518.6,876.0 520.7,875.6 522.8,875.3 524.9,874.9 527.0,874.6 529.1,874.2 531.2,873.9 533.3,873.6 535.4,873.3 537.5,873.0 539.6,872.7 541.7,872.4 543.8,872.2 545.9,871.9 548.0,871.6 550.1,871.4 552.2,871.1 554.3,870.9 556.4,870.7 558.5,870.5 560.6,870.2 562.7,870.0 564.8,869.8 566.9,869.6 569.0,869.4 571.1,869.2 573.2,869.1 575.3,868.9 577.4,868.7 579.5,868.5 581.6,868.4 583.7,868.2 585.8,868.0 587.9,867.9 590.0,867.7" fill="none" stroke="#000" stroke-width="2.4" stroke-linejoin="round"/>
<line x1="170.0" y1="1058.1" x2="170.0" y2="1088.8" stroke="#000" stroke-width="3.2" stroke-linecap="butt"/>
<line x1="161.5" y1="1058.1" x2="178.5" y2="1058.1" stroke="#000" stroke-width="3.2" stroke-linecap="butt"/>
<line x1="161.5" y1="1088.8" x2="178.5" y2="1088.8" stroke="#000" stroke-width="3.2" stroke-linecap="butt"/>
<circle cx="170.0" cy="1073.4" r="9.0" fill="#000"/>
<line x1="275.0" y1="1039.5" x2="275.0" y2="1070.1" stroke="#000" stroke-width="3.2" stroke-linecap="butt"/>
<line x1="266.5" y1="1039.5" x2="283.5" y2="1039.5" stroke="#000" stroke-width="3.2" stroke-linecap="butt"/>
<line x1="266.5" y1="1070.1" x2="283.5" y2="1070.1" stroke="#000" stroke-width="3.2" stroke-linecap="butt"/>
<circle cx="275.0" cy="1054.8" r="9.0" fill="#000"/>
<line x1="380.0" y1="930.0" x2="380.0" y2="986.9" stroke="#000" stroke-width="3.2" stroke-linecap="butt"/>
<line x1="371.5" y1="930.0" x2="388.5" y2="930.0" stroke="#000" stroke-width="3.2" stroke-linecap="butt"/>
<line x1="371.5" y1="986.9" x2="388.5" y2="986.9" stroke="#000" stroke-width="3.2" stroke-linecap="butt"/>
<circle cx="380.0" cy="958.5" r="9.0" fill="#000"/>
<line x1="590.0" y1="845.0" x2="590.0" y2="845.0" stroke="#000" stroke-width="3.2" stroke-linecap="butt"/>
<line x1="581.5" y1="845.0" x2="598.5" y2="845.0" stroke="#000" stroke-width="3.2" stroke-linecap="butt"/>
<line x1="581.5" y1="845.0" x2="598.5" y2="845.0" stroke="#000" stroke-width="3.2" stroke-linecap="butt"/>
<circle cx="590.0" cy="845.0" r="9.0" fill="#000"/>
<text x="434.0" y="1197.0" text-anchor="middle" style="font-family:'Liberation Sans',Arial,sans-serif;font-weight:bold;font-size:32.6px" fill="#000">Dose (mg/kg)</text>
<text x="59.0" y="977.0" text-anchor="middle" style="font-family:'Liberation Sans',Arial,sans-serif;font-weight:bold;font-size:32.6px" fill="#000" transform="rotate(-90 59.0 977.0)">% Reversal</text>
<text x="196.0" y="834.0" text-anchor="start" style="font-family:'Liberation Sans',Arial,sans-serif;font-weight:bold;font-size:32.7px" fill="#000">120 min</text>
<text x="197" y="886" style="font-family:'Liberation Sans',Arial,sans-serif;font-weight:normal;font-size:33px" fill="#2e2e2e">ED<tspan font-size="20" dy="6.5">50</tspan><tspan dy="-6.5"> = 9.294</tspan></text>
<text x="723.0" y="740.0" text-anchor="start" style="font-family:'Liberation Sans',Arial,sans-serif;font-weight:bold;font-size:42px" fill="#000">D</text>
<line x1="989.0" y1="780.8" x2="989.0" y2="1139.5" stroke="#000" stroke-width="5.5" stroke-linecap="butt"/>
<line x1="964.5" y1="1136.7" x2="991.8" y2="1136.7" stroke="#000" stroke-width="5.5" stroke-linecap="butt"/>
<text x="956.5" y="1148.7" text-anchor="end" style="font-family:'Liberation Sans',Arial,sans-serif;font-weight:bold;font-size:33px" fill="#000">0</text>
<line x1="964.5" y1="1048.4" x2="991.8" y2="1048.4" stroke="#000" stroke-width="5.5" stroke-linecap="butt"/>
<text x="956.5" y="1060.4" text-anchor="end" style="font-family:'Liberation Sans',Arial,sans-serif;font-weight:bold;font-size:33px" fill="#000">2000</text>
<line x1="964.5" y1="960.1" x2="991.8" y2="960.1" stroke="#000" stroke-width="5.5" stroke-linecap="butt"/>
<text x="956.5" y="972.1" text-anchor="end" style="font-family:'Liberation Sans',Arial,sans-serif;font-weight:bold;font-size:33px" fill="#000">4000</text>
<line x1="964.5" y1="871.8" x2="991.8" y2="871.8" stroke="#000" stroke-width="5.5" stroke-linecap="butt"/>
<text x="956.5" y="883.8" text-anchor="end" style="font-family:'Liberation Sans',Arial,sans-serif;font-weight:bold;font-size:33px" fill="#000">6000</text>
<line x1="964.5" y1="783.5" x2="991.8" y2="783.5" stroke="#000" stroke-width="5.5" stroke-linecap="butt"/>
<text x="956.5" y="795.5" text-anchor="end" style="font-family:'Liberation Sans',Arial,sans-serif;font-weight:bold;font-size:33px" fill="#000">8000</text>
<line x1="964.0" y1="1136.7" x2="1345.0" y2="1136.7" stroke="#000" stroke-width="5.5" stroke-linecap="butt"/>
<line x1="1058.8" y1="1136.7" x2="1058.8" y2="1161.7" stroke="#000" stroke-width="5.5" stroke-linecap="butt"/>
<text x="1058.8" y="1197.5" text-anchor="middle" style="font-family:'Liberation Sans',Arial,sans-serif;font-weight:bold;font-size:33px" fill="#000">5</text>
<line x1="1164.9" y1="1136.7" x2="1164.9" y2="1161.7" stroke="#000" stroke-width="5.5" stroke-linecap="butt"/>
<text x="1164.9" y="1197.5" text-anchor="middle" style="font-family:'Liberation Sans',Arial,sans-serif;font-weight:bold;font-size:33px" fill="#000">10</text>
<line x1="1271.0" y1="1136.7" x2="1271.0" y2="1161.7" stroke="#000" stroke-width="5.5" stroke-linecap="butt"/>
<text x="1271.0" y="1197.5" text-anchor="middle" style="font-family:'Liberation Sans',Arial,sans-serif;font-weight:bold;font-size:33px" fill="#000">20</text>
<rect x="1025.3" y="1123.5" width="67" height="13.2" fill="#b4b4b4" stroke="#000" stroke-width="4.5"/>
<rect x="1131.4" y="1046.2" width="67" height="90.5" fill="#5e5e5e" stroke="#000" stroke-width="4.5"/>
<rect x="1237.5" y="960.1" width="67" height="176.6" fill="#8a8a8a" stroke="#000" stroke-width="4.5"/>
<line x1="1164.9" y1="1038.4" x2="1164.9" y2="1054.0" stroke="#000" stroke-width="3.2" stroke-linecap="butt"/>
<line x1="1149.9" y1="1038.4" x2="1179.9" y2="1038.4" stroke="#000" stroke-width="3.2" stroke-linecap="butt"/>
<line x1="1149.9" y1="1054.0" x2="1179.9" y2="1054.0" stroke="#000" stroke-width="3.2" stroke-linecap="butt"/>
<line x1="1271.0" y1="941.0" x2="1271.0" y2="976.0" stroke="#000" stroke-width="3.2" stroke-linecap="butt"/>
<line x1="1254.5" y1="941.0" x2="1287.5" y2="941.0" stroke="#000" stroke-width="3.2" stroke-linecap="butt"/>
<line x1="1254.5" y1="976.0" x2="1287.5" y2="976.0" stroke="#000" stroke-width="3.2" stroke-linecap="butt"/>
<circle cx="1029.6" cy="1118.6" r="5.8" fill="#000"/>
<circle cx="1041.0" cy="1111.8" r="5.8" fill="#000"/>
<circle cx="1052.6" cy="1118.6" r="5.8" fill="#000"/>
<circle cx="1064.0" cy="1116.3" r="5.8" fill="#000"/>
<circle cx="1075.5" cy="1110.6" r="5.8" fill="#000"/>
<circle cx="1088.0" cy="1104.9" r="5.8" fill="#000"/>
<circle cx="1076.7" cy="1127.8" r="5.8" fill="#000"/>
<circle cx="1089.3" cy="1118.6" r="5.8" fill="#000"/>
<circle cx="1059.5" cy="1116.3" r="5.8" fill="#000"/>
<circle cx="1046.0" cy="1117.0" r="5.8" fill="#000"/>
<circle cx="1070.0" cy="1118.0" r="5.8" fill="#000"/>
<circle cx="1164.9" cy="1010.4" r="5.8" fill="#000"/>
<circle cx="1164.9" cy="1024.4" r="5.8" fill="#000"/>
<circle cx="1150.0" cy="1036.0" r="5.8" fill="#000"/>
<circle cx="1179.5" cy="1038.4" r="5.8" fill="#000"/>
<circle cx="1137.4" cy="1052.5" r="5.8" fill="#000"/>
<circle cx="1165.0" cy="1062.0" r="5.8" fill="#000"/>
<circle cx="1193.6" cy="1062.0" r="5.8" fill="#000"/>
<circle cx="1165.0" cy="1079.0" r="5.8" fill="#000"/>
<circle cx="1271.0" cy="842.0" r="5.8" fill="#000"/>
<circle cx="1271.6" cy="943.0" r="5.8" fill="#000"/>
<circle cx="1257.5" cy="966.7" r="5.8" fill="#000"/>
<circle cx="1287.0" cy="960.4" r="5.8" fill="#000"/>
<circle cx="1301.0" cy="979.0" r="5.8" fill="#000"/>
<circle cx="1242.8" cy="994.8" r="5.8" fill="#000"/>
<circle cx="1271.6" cy="991.6" r="5.8" fill="#000"/>
<circle cx="1301.0" cy="993.0" r="5.8" fill="#000"/>
<text x="1045.0" y="1238.4" text-anchor="start" style="font-family:'Liberation Sans',Arial,sans-serif;font-weight:bold;font-size:33.2px" fill="#000">VVZ-2471 (mg/kg)</text>
<text x="813.5" y="966.5" text-anchor="middle" style="font-family:'Liberation Sans',Arial,sans-serif;font-weight:bold;font-size:37.6px" fill="#000" transform="rotate(-90 813.5 966.5)">Plasma concentration</text>
<text x="857.5" y="967.4" text-anchor="middle" style="font-family:'Liberation Sans',Arial,sans-serif;font-weight:bold;font-size:36px" fill="#000" transform="rotate(-90 857.5 967.4)">(ng/mL)</text>
<text x="1399.0" y="741.0" text-anchor="start" style="font-family:'Liberation Sans',Arial,sans-serif;font-weight:bold;font-size:42px" fill="#000">E</text>
<line x1="1565.5" y1="752.2" x2="1565.5" y2="1193.8" stroke="#000" stroke-width="5.5" stroke-linecap="butt"/>
<line x1="1539.0" y1="755.0" x2="1568.2" y2="755.0" stroke="#000" stroke-width="5.5" stroke-linecap="butt"/>
<text x="1532.5" y="767.0" text-anchor="end" style="font-family:'Liberation Sans',Arial,sans-serif;font-weight:bold;font-size:33px" fill="#000">150</text>
<line x1="1539.0" y1="864.0" x2="1568.2" y2="864.0" stroke="#000" stroke-width="5.5" stroke-linecap="butt"/>
<text x="1532.5" y="876.0" text-anchor="end" style="font-family:'Liberation Sans',Arial,sans-serif;font-weight:bold;font-size:33px" fill="#000">100</text>
<line x1="1539.0" y1="973.0" x2="1568.2" y2="973.0" stroke="#000" stroke-width="5.5" stroke-linecap="butt"/>
<text x="1532.5" y="985.0" text-anchor="end" style="font-family:'Liberation Sans',Arial,sans-serif;font-weight:bold;font-size:33px" fill="#000">50</text>
<line x1="1539.0" y1="1082.0" x2="1568.2" y2="1082.0" stroke="#000" stroke-width="5.5" stroke-linecap="butt"/>
<text x="1532.5" y="1094.0" text-anchor="end" style="font-family:'Liberation Sans',Arial,sans-serif;font-weight:bold;font-size:33px" fill="#000">0</text>
<line x1="1539.0" y1="1191.0" x2="1568.2" y2="1191.0" stroke="#000" stroke-width="5.5" stroke-linecap="butt"/>
<text x="1532.5" y="1203.0" text-anchor="end" style="font-family:'Liberation Sans',Arial,sans-serif;font-weight:bold;font-size:33px" fill="#000">-50</text>
<line x1="1539.0" y1="1082.0" x2="2091.0" y2="1082.0" stroke="#000" stroke-width="5.5" stroke-linecap="butt"/>
<line x1="1647.0" y1="1082.0" x2="1647.0" y2="1095.0" stroke="#000" stroke-width="4.5" stroke-linecap="butt"/>
<line x1="1692.6" y1="1082.0" x2="1692.6" y2="1095.0" stroke="#000" stroke-width="4.5" stroke-linecap="butt"/>
<line x1="1724.9" y1="1082.0" x2="1724.9" y2="1095.0" stroke="#000" stroke-width="4.5" stroke-linecap="butt"/>
<line x1="1750.0" y1="1082.0" x2="1750.0" y2="1095.0" stroke="#000" stroke-width="4.5" stroke-linecap="butt"/>
<line x1="1770.5" y1="1082.0" x2="1770.5" y2="1095.0" stroke="#000" stroke-width="4.5" stroke-linecap="butt"/>
<line x1="1787.9" y1="1082.0" x2="1787.9" y2="1095.0" stroke="#000" stroke-width="4.5" stroke-linecap="butt"/>
<line x1="1802.9" y1="1082.0" x2="1802.9" y2="1095.0" stroke="#000" stroke-width="4.5" stroke-linecap="butt"/>
<line x1="1816.1" y1="1082.0" x2="1816.1" y2="1095.0" stroke="#000" stroke-width="4.5" stroke-linecap="butt"/>
<line x1="1906.0" y1="1082.0" x2="1906.0" y2="1095.0" stroke="#000" stroke-width="4.5" stroke-linecap="butt"/>
<line x1="1951.6" y1="1082.0" x2="1951.6" y2="1095.0" stroke="#000" stroke-width="4.5" stroke-linecap="butt"/>
<line x1="1983.9" y1="1082.0" x2="1983.9" y2="1095.0" stroke="#000" stroke-width="4.5" stroke-linecap="butt"/>
<line x1="2009.0" y1="1082.0" x2="2009.0" y2="1095.0" stroke="#000" stroke-width="4.5" stroke-linecap="butt"/>
<line x1="2029.5" y1="1082.0" x2="2029.5" y2="1095.0" stroke="#000" stroke-width="4.5" stroke-linecap="butt"/>
<line x1="2046.9" y1="1082.0" x2="2046.9" y2="1095.0" stroke="#000" stroke-width="4.5" stroke-linecap="butt"/>
<line x1="2061.9" y1="1082.0" x2="2061.9" y2="1095.0" stroke="#000" stroke-width="4.5" stroke-linecap="butt"/>
<line x1="2075.1" y1="1082.0" x2="2075.1" y2="1095.0" stroke="#000" stroke-width="4.5" stroke-linecap="butt"/>
<line x1="1828.0" y1="1082.0" x2="1828.0" y2="1105.5" stroke="#000" stroke-width="5.5" stroke-linecap="butt"/>
<line x1="2087.0" y1="1082.0" x2="2087.0" y2="1105.5" stroke="#000" stroke-width="5.5" stroke-linecap="butt"/>
<text x="1827.0" y="1145.5" text-anchor="middle" style="font-family:'Liberation Sans',Arial,sans-serif;font-weight:bold;font-size:32px">1×10<tspan font-size="21" dy="-9" dx="3" style="font-weight:normal">3</tspan></text>
<text x="2086.0" y="1145.5" text-anchor="middle" style="font-family:'Liberation Sans',Arial,sans-serif;font-weight:bold;font-size:32px">1×10<tspan font-size="21" dy="-9" dx="3" style="font-weight:normal">4</tspan></text>
<polyline points="1635.1,1082.0 1637.3,1082.0 1639.6,1082.0 1641.8,1082.0 1644.0,1082.0 1646.3,1082.0 1648.5,1082.0 1650.7,1082.0 1652.9,1082.0 1655.2,1082.0 1657.4,1082.0 1659.6,1082.0 1661.8,1082.0 1664.1,1082.0 1666.3,1082.0 1668.5,1082.0 1670.8,1082.0 1673.0,1082.0 1675.2,1082.0 1677.4,1081.9 1679.7,1081.9 1681.9,1081.9 1684.1,1081.9 1686.3,1081.9 1688.6,1081.9 1690.8,1081.9 1693.0,1081.9 1695.3,1081.9 1697.5,1081.9 1699.7,1081.9 1701.9,1081.9 1704.2,1081.9 1706.4,1081.8 1708.6,1081.8 1710.8,1081.8 1713.1,1081.8 1715.3,1081.8 1717.5,1081.8 1719.8,1081.7 1722.0,1081.7 1724.2,1081.7 1726.4,1081.7 1728.7,1081.6 1730.9,1081.6 1733.1,1081.6 1735.4,1081.5 1737.6,1081.5 1739.8,1081.4 1742.0,1081.4 1744.3,1081.3 1746.5,1081.3 1748.7,1081.2 1750.9,1081.2 1753.2,1081.1 1755.4,1081.0 1757.6,1080.9 1759.9,1080.8 1762.1,1080.7 1764.3,1080.6 1766.5,1080.5 1768.8,1080.3 1771.0,1080.2 1773.2,1080.0 1775.4,1079.8 1777.7,1079.7 1779.9,1079.5 1782.1,1079.2 1784.4,1079.0 1786.6,1078.7 1788.8,1078.4 1791.0,1078.1 1793.3,1077.8 1795.5,1077.4 1797.7,1077.0 1799.9,1076.6 1802.2,1076.1 1804.4,1075.6 1806.6,1075.1 1808.9,1074.5 1811.1,1073.8 1813.3,1073.1 1815.5,1072.4 1817.8,1071.6 1820.0,1070.7 1822.2,1069.7 1824.4,1068.7 1826.7,1067.6 1828.9,1066.4 1831.1,1065.1 1833.4,1063.8 1835.6,1062.3 1837.8,1060.7 1840.0,1059.0 1842.3,1057.2 1844.5,1055.3 1846.7,1053.2 1849.0,1051.0 1851.2,1048.7 1853.4,1046.2 1855.6,1043.6 1857.9,1040.8 1860.1,1037.9 1862.3,1034.8 1864.5,1031.6 1866.8,1028.2 1869.0,1024.7 1871.2,1021.0 1873.5,1017.2 1875.7,1013.3 1877.9,1009.2 1880.1,1005.0 1882.4,1000.7 1884.6,996.4 1886.8,991.9 1889.0,987.4 1891.3,982.8 1893.5,978.2 1895.7,973.5 1898.0,968.9 1900.2,964.3 1902.4,959.7 1904.6,955.1 1906.9,950.6 1909.1,946.2 1911.3,941.9 1913.5,937.7 1915.8,933.6 1918.0,929.6 1920.2,925.8 1922.5,922.1 1924.7,918.5 1926.9,915.1 1929.1,911.9 1931.4,908.8 1933.6,905.8 1935.8,903.0 1938.0,900.4 1940.3,897.9 1942.5,895.5 1944.7,893.3 1947.0,891.2 1949.2,889.2 1951.4,887.4 1953.6,885.7 1955.9,884.1 1958.1,882.6 1960.3,881.2 1962.5,879.9 1964.8,878.7 1967.0,877.5 1969.2,876.5 1971.5,875.5 1973.7,874.6 1975.9,873.8 1978.1,873.0 1980.4,872.3 1982.6,871.7 1984.8,871.1 1987.1,870.5 1989.3,870.0 1991.5,869.5 1993.7,869.1 1996.0,868.7 1998.2,868.3 2000.4,867.9 2002.6,867.6 2004.9,867.3 2007.1,867.1 2009.3,866.8 2011.6,866.6 2013.8,866.4 2016.0,866.2 2018.2,866.0 2020.5,865.9 2022.7,865.7 2024.9,865.6 2027.1,865.4 2029.4,865.3 2031.6,865.2 2033.8,865.1 2036.1,865.0 2038.3,864.9 2040.5,864.9 2042.7,864.8" fill="none" stroke="#000" stroke-width="2.4" stroke-linejoin="round"/>
<circle cx="1655.0" cy="1082.0" r="8.6" fill="#000"/>
<circle cx="1725.6" cy="965.7" r="8.6" fill="#000"/>
<circle cx="1726.0" cy="1082.0" r="8.6" fill="#000"/>
<circle cx="1735.0" cy="1032.0" r="8.6" fill="#000"/>
<circle cx="1739.4" cy="1056.6" r="8.6" fill="#000"/>
<circle cx="1763.0" cy="1098.5" r="8.6" fill="#000"/>
<circle cx="1772.0" cy="1098.5" r="8.6" fill="#000"/>
<circle cx="1790.8" cy="1041.5" r="8.6" fill="#000"/>
<circle cx="1861.0" cy="1042.3" r="8.6" fill="#000"/>
<circle cx="1885.3" cy="983.2" r="8.6" fill="#000"/>
<circle cx="1888.6" cy="1018.7" r="8.6" fill="#000"/>
<circle cx="1899.5" cy="841.8" r="8.6" fill="#000"/>
<circle cx="1918.0" cy="999.5" r="8.6" fill="#000"/>
<circle cx="1921.0" cy="1028.0" r="8.6" fill="#000"/>
<circle cx="1934.0" cy="934.3" r="8.6" fill="#000"/>
<circle cx="1944.4" cy="843.4" r="8.6" fill="#000"/>
<circle cx="1957.8" cy="840.6" r="8.6" fill="#000"/>
<circle cx="1963.5" cy="846.7" r="8.6" fill="#000"/>
<circle cx="1973.0" cy="841.8" r="8.6" fill="#000"/>
<circle cx="1984.0" cy="835.3" r="8.6" fill="#000"/>
<circle cx="1980.5" cy="874.3" r="8.6" fill="#000"/>
<circle cx="1996.0" cy="876.8" r="8.6" fill="#000"/>
<circle cx="2042.0" cy="833.7" r="8.6" fill="#000"/>
<text x="1612" y="781.5" style="font-family:'Liberation Sans',Arial,sans-serif;font-weight:normal;font-size:33px" fill="#2e2e2e">EC<tspan font-size="20" dy="6.5">50</tspan><tspan dy="-6.5"> = 1830 ng/mL</tspan></text>
<text x="1850.0" y="1244.0" text-anchor="middle" style="font-family:'Liberation Sans',Arial,sans-serif;font-weight:bold;font-size:32.6px" fill="#000">VVZ-2471 in Plasma (ng/ml)</text>
<text x="1455.0" y="979.0" text-anchor="middle" style="font-family:'Liberation Sans',Arial,sans-serif;font-weight:bold;font-size:32.6px" fill="#000" transform="rotate(-90 1455.0 979.0)">% Reversal</text>
<text x="41.0" y="1423.0" text-anchor="start" style="font-family:'Liberation Sans',Arial,sans-serif;font-weight:bold;font-size:42px" fill="#000">F</text>
<line x1="245.5" y1="1476.3" x2="245.5" y2="1919.3" stroke="#000" stroke-width="5.5" stroke-linecap="butt"/>
<line x1="220.0" y1="1916.6" x2="248.2" y2="1916.6" stroke="#000" stroke-width="5.5" stroke-linecap="butt"/>
<text x="213.0" y="1928.5" text-anchor="end" style="font-family:'Liberation Sans',Arial,sans-serif;font-weight:bold;font-size:33px" fill="#000">0</text>
<line x1="220.0" y1="1829.1" x2="248.2" y2="1829.1" stroke="#000" stroke-width="5.5" stroke-linecap="butt"/>
<text x="213.0" y="1841.0" text-anchor="end" style="font-family:'Liberation Sans',Arial,sans-serif;font-weight:bold;font-size:33px" fill="#000">5</text>
<line x1="220.0" y1="1741.6" x2="248.2" y2="1741.6" stroke="#000" stroke-width="5.5" stroke-linecap="butt"/>
<text x="213.0" y="1753.5" text-anchor="end" style="font-family:'Liberation Sans',Arial,sans-serif;font-weight:bold;font-size:33px" fill="#000">10</text>
<line x1="220.0" y1="1654.1" x2="248.2" y2="1654.1" stroke="#000" stroke-width="5.5" stroke-linecap="butt"/>
<text x="213.0" y="1666.0" text-anchor="end" style="font-family:'Liberation Sans',Arial,sans-serif;font-weight:bold;font-size:33px" fill="#000">15</text>
<line x1="220.0" y1="1566.6" x2="248.2" y2="1566.6" stroke="#000" stroke-width="5.5" stroke-linecap="butt"/>
<text x="213.0" y="1578.5" text-anchor="end" style="font-family:'Liberation Sans',Arial,sans-serif;font-weight:bold;font-size:33px" fill="#000">20</text>
<line x1="220.0" y1="1479.1" x2="248.2" y2="1479.1" stroke="#000" stroke-width="5.5" stroke-linecap="butt"/>
<text x="213.0" y="1491.0" text-anchor="end" style="font-family:'Liberation Sans',Arial,sans-serif;font-weight:bold;font-size:33px" fill="#000">25</text>
<line x1="220.0" y1="1916.6" x2="771.0" y2="1916.6" stroke="#000" stroke-width="5.5" stroke-linecap="butt"/>
<line x1="348.8" y1="1916.6" x2="348.8" y2="1942.6" stroke="#000" stroke-width="5.5" stroke-linecap="butt"/>
<text x="348.8" y="1980.0" text-anchor="middle" style="font-family:'Liberation Sans',Arial,sans-serif;font-weight:bold;font-size:33px" fill="#000">0</text>
<line x1="506.6" y1="1916.6" x2="506.6" y2="1942.6" stroke="#000" stroke-width="5.5" stroke-linecap="butt"/>
<text x="506.6" y="1980.0" text-anchor="middle" style="font-family:'Liberation Sans',Arial,sans-serif;font-weight:bold;font-size:33px" fill="#000">60</text>
<line x1="664.3" y1="1916.6" x2="664.3" y2="1942.6" stroke="#000" stroke-width="5.5" stroke-linecap="butt"/>
<text x="664.3" y="1980.0" text-anchor="middle" style="font-family:'Liberation Sans',Arial,sans-serif;font-weight:bold;font-size:33px" fill="#000">120</text>
<text x="508.7" y="2036.0" text-anchor="middle" style="font-family:'Liberation Sans',Arial,sans-serif;font-weight:bold;font-size:32.7px" fill="#000">Time post administration (min)</text>
<text x="151.4" y="1703.4" text-anchor="middle" style="font-family:'Liberation Sans',Arial,sans-serif;font-weight:bold;font-size:33px" fill="#000" transform="rotate(-90 151.4 1703.4)">Paw withdrawal threshold (g)</text>
<circle cx="305.5" cy="1390.3" r="11.7" fill="#000"/>
<text x="327.3" y="1400.8" text-anchor="start" style="font-family:'Liberation Sans',Arial,sans-serif;font-weight:bold;font-size:29.2px" fill="#000">Veh</text>
<circle cx="305.5" cy="1425.3" r="10.9" fill="none" stroke="#000" stroke-width="1.6"/>
<text x="327.3" y="1435.8" text-anchor="start" style="font-family:'Liberation Sans',Arial,sans-serif;font-weight:bold;font-size:29.2px" fill="#000">VVZ-2868 5 mg/kg</text>
<polygon points="295.1,1453.6 315.9,1453.6 305.5,1470.8" fill="#000"/>
<text x="327.3" y="1470.9" text-anchor="start" style="font-family:'Liberation Sans',Arial,sans-serif;font-weight:bold;font-size:29.2px" fill="#000">VVZ-2868 10 mg/kg</text>
<polygon points="295.4,1489.0 315.6,1489.0 305.5,1504.4" fill="none" stroke="#000" stroke-width="1.6" stroke-linejoin="miter"/>
<text x="327.3" y="1506.0" text-anchor="start" style="font-family:'Liberation Sans',Arial,sans-serif;font-weight:bold;font-size:29.2px" fill="#000">VVZ-2868 20 mg/kg</text>
<rect x="294.0" y="1519.0" width="23.0" height="23.0" fill="#000"/>
<text x="327.3" y="1541.0" text-anchor="start" style="font-family:'Liberation Sans',Arial,sans-serif;font-weight:bold;font-size:29.2px" fill="#000">GBP</text>
<polyline points="348.8,1888.6 506.6,1883.3 664.3,1881.6" fill="none" stroke="#000" stroke-width="2.6" stroke-linejoin="round"/>
<polyline points="348.8,1886.8 506.6,1829.1 664.3,1855.3" fill="none" stroke="#000" stroke-width="2.6" stroke-linejoin="round"/>
<polyline points="348.8,1885.1 506.6,1790.6 664.3,1785.3" fill="none" stroke="#000" stroke-width="2.6" stroke-linejoin="round"/>
<polyline points="348.8,1883.3 506.6,1596.3 664.3,1629.6" fill="none" stroke="#000" stroke-width="2.6" stroke-linejoin="round"/>
<polyline points="348.8,1886.8 506.6,1626.1 664.3,1603.3" fill="none" stroke="#000" stroke-width="2.6" stroke-linejoin="round"/>
<line x1="348.8" y1="1883.3" x2="348.8" y2="1893.8" stroke="#000" stroke-width="3.2" stroke-linecap="butt"/>
<line x1="340.3" y1="1883.3" x2="357.3" y2="1883.3" stroke="#000" stroke-width="3.2" stroke-linecap="butt"/>
<line x1="340.3" y1="1893.8" x2="357.3" y2="1893.8" stroke="#000" stroke-width="3.2" stroke-linecap="butt"/>
<line x1="506.6" y1="1875.5" x2="506.6" y2="1891.2" stroke="#000" stroke-width="3.2" stroke-linecap="butt"/>
<line x1="498.1" y1="1875.5" x2="515.1" y2="1875.5" stroke="#000" stroke-width="3.2" stroke-linecap="butt"/>
<line x1="498.1" y1="1891.2" x2="515.1" y2="1891.2" stroke="#000" stroke-width="3.2" stroke-linecap="butt"/>
<line x1="664.3" y1="1873.7" x2="664.3" y2="1889.5" stroke="#000" stroke-width="3.2" stroke-linecap="butt"/>
<line x1="655.8" y1="1873.7" x2="672.8" y2="1873.7" stroke="#000" stroke-width="3.2" stroke-linecap="butt"/>
<line x1="655.8" y1="1889.5" x2="672.8" y2="1889.5" stroke="#000" stroke-width="3.2" stroke-linecap="butt"/>
<line x1="348.8" y1="1881.6" x2="348.8" y2="1892.1" stroke="#000" stroke-width="3.2" stroke-linecap="butt"/>
<line x1="340.3" y1="1881.6" x2="357.3" y2="1881.6" stroke="#000" stroke-width="3.2" stroke-linecap="butt"/>
<line x1="340.3" y1="1892.1" x2="357.3" y2="1892.1" stroke="#000" stroke-width="3.2" stroke-linecap="butt"/>
<line x1="506.6" y1="1789.9" x2="506.6" y2="1868.3" stroke="#000" stroke-width="3.2" stroke-linecap="butt"/>
<line x1="498.1" y1="1789.9" x2="515.1" y2="1789.9" stroke="#000" stroke-width="3.2" stroke-linecap="butt"/>
<line x1="498.1" y1="1868.3" x2="515.1" y2="1868.3" stroke="#000" stroke-width="3.2" stroke-linecap="butt"/>
<line x1="664.3" y1="1836.4" x2="664.3" y2="1874.2" stroke="#000" stroke-width="3.2" stroke-linecap="butt"/>
<line x1="655.8" y1="1836.4" x2="672.8" y2="1836.4" stroke="#000" stroke-width="3.2" stroke-linecap="butt"/>
<line x1="655.8" y1="1874.2" x2="672.8" y2="1874.2" stroke="#000" stroke-width="3.2" stroke-linecap="butt"/>
<line x1="348.8" y1="1879.8" x2="348.8" y2="1890.3" stroke="#000" stroke-width="3.2" stroke-linecap="butt"/>
<line x1="340.3" y1="1879.8" x2="357.3" y2="1879.8" stroke="#000" stroke-width="3.2" stroke-linecap="butt"/>
<line x1="340.3" y1="1890.3" x2="357.3" y2="1890.3" stroke="#000" stroke-width="3.2" stroke-linecap="butt"/>
<line x1="506.6" y1="1757.3" x2="506.6" y2="1823.8" stroke="#000" stroke-width="3.2" stroke-linecap="butt"/>
<line x1="498.1" y1="1757.3" x2="515.1" y2="1757.3" stroke="#000" stroke-width="3.2" stroke-linecap="butt"/>
<line x1="498.1" y1="1823.8" x2="515.1" y2="1823.8" stroke="#000" stroke-width="3.2" stroke-linecap="butt"/>
<line x1="664.3" y1="1750.3" x2="664.3" y2="1820.3" stroke="#000" stroke-width="3.2" stroke-linecap="butt"/>
<line x1="655.8" y1="1750.3" x2="672.8" y2="1750.3" stroke="#000" stroke-width="3.2" stroke-linecap="butt"/>
<line x1="655.8" y1="1820.3" x2="672.8" y2="1820.3" stroke="#000" stroke-width="3.2" stroke-linecap="butt"/>
<line x1="348.8" y1="1878.1" x2="348.8" y2="1888.6" stroke="#000" stroke-width="3.2" stroke-linecap="butt"/>
<line x1="340.3" y1="1878.1" x2="357.3" y2="1878.1" stroke="#000" stroke-width="3.2" stroke-linecap="butt"/>
<line x1="340.3" y1="1888.6" x2="357.3" y2="1888.6" stroke="#000" stroke-width="3.2" stroke-linecap="butt"/>
<line x1="506.6" y1="1580.6" x2="506.6" y2="1612.1" stroke="#000" stroke-width="3.2" stroke-linecap="butt"/>
<line x1="498.1" y1="1580.6" x2="515.1" y2="1580.6" stroke="#000" stroke-width="3.2" stroke-linecap="butt"/>
<line x1="498.1" y1="1612.1" x2="515.1" y2="1612.1" stroke="#000" stroke-width="3.2" stroke-linecap="butt"/>
<line x1="664.3" y1="1598.1" x2="664.3" y2="1661.1" stroke="#000" stroke-width="3.2" stroke-linecap="butt"/>
<line x1="655.8" y1="1598.1" x2="672.8" y2="1598.1" stroke="#000" stroke-width="3.2" stroke-linecap="butt"/>
<line x1="655.8" y1="1661.1" x2="672.8" y2="1661.1" stroke="#000" stroke-width="3.2" stroke-linecap="butt"/>
<line x1="348.8" y1="1881.6" x2="348.8" y2="1892.1" stroke="#000" stroke-width="3.2" stroke-linecap="butt"/>
<line x1="340.3" y1="1881.6" x2="357.3" y2="1881.6" stroke="#000" stroke-width="3.2" stroke-linecap="butt"/>
<line x1="340.3" y1="1892.1" x2="357.3" y2="1892.1" stroke="#000" stroke-width="3.2" stroke-linecap="butt"/>
<line x1="506.6" y1="1596.3" x2="506.6" y2="1655.8" stroke="#000" stroke-width="3.2" stroke-linecap="butt"/>
<line x1="498.1" y1="1596.3" x2="515.1" y2="1596.3" stroke="#000" stroke-width="3.2" stroke-linecap="butt"/>
<line x1="498.1" y1="1655.8" x2="515.1" y2="1655.8" stroke="#000" stroke-width="3.2" stroke-linecap="butt"/>
<line x1="664.3" y1="1580.6" x2="664.3" y2="1626.1" stroke="#000" stroke-width="3.2" stroke-linecap="butt"/>
<line x1="655.8" y1="1580.6" x2="672.8" y2="1580.6" stroke="#000" stroke-width="3.2" stroke-linecap="butt"/>
<line x1="655.8" y1="1626.1" x2="672.8" y2="1626.1" stroke="#000" stroke-width="3.2" stroke-linecap="butt"/>
<circle cx="348.8" cy="1888.6" r="9.5" fill="#000"/>
<circle cx="506.6" cy="1883.3" r="9.5" fill="#000"/>
<circle cx="664.3" cy="1881.6" r="9.5" fill="#000"/>
<circle cx="348.8" cy="1886.8" r="8.7" fill="none" stroke="#000" stroke-width="3.2"/>
<circle cx="506.6" cy="1829.1" r="8.7" fill="none" stroke="#000" stroke-width="3.2"/>
<circle cx="664.3" cy="1855.3" r="8.7" fill="none" stroke="#000" stroke-width="3.2"/>
<polygon points="339.8,1879.2 357.8,1879.2 348.8,1894.1" fill="#000"/>
<polygon points="497.5,1784.7 515.6,1784.7 506.6,1799.6" fill="#000"/>
<polygon points="655.3,1779.5 673.3,1779.5 664.3,1794.4" fill="#000"/>
<polygon points="338.2,1876.5 359.4,1876.5 348.8,1892.5" fill="none" stroke="#000" stroke-width="3.3" stroke-linejoin="miter"/>
<polygon points="496.0,1589.5 517.1,1589.5 506.6,1605.5" fill="none" stroke="#000" stroke-width="3.3" stroke-linejoin="miter"/>
<polygon points="653.7,1622.8 674.9,1622.8 664.3,1638.7" fill="none" stroke="#000" stroke-width="3.3" stroke-linejoin="miter"/>
<rect x="339.8" y="1877.8" width="18.0" height="18.0" fill="#000"/>
<rect x="497.6" y="1617.1" width="18.0" height="18.0" fill="#000"/>
<rect x="655.3" y="1594.3" width="18.0" height="18.0" fill="#000"/>
<text x="506.0" y="1577.0" text-anchor="middle" style="font-family:'Liberation Sans',Arial,sans-serif;font-weight:bold;font-size:38px" fill="#000" letter-spacing="1.5">***</text>
<text x="520.5" y="1695.0" text-anchor="middle" style="font-family:'Liberation Sans',Arial,sans-serif;font-weight:bold;font-size:38px" fill="#000" letter-spacing="1.5">***</text>
<text x="509.0" y="1749.0" text-anchor="middle" style="font-family:'Liberation Sans',Arial,sans-serif;font-weight:bold;font-size:38px" fill="#000" letter-spacing="1.5">*</text>
<text x="670.3" y="1579.8" text-anchor="middle" style="font-family:'Liberation Sans',Arial,sans-serif;font-weight:bold;font-size:38px" fill="#000" letter-spacing="1.5">***</text>
<text x="672.3" y="1696.5" text-anchor="middle" style="font-family:'Liberation Sans',Arial,sans-serif;font-weight:bold;font-size:38px" fill="#000" letter-spacing="1.5">***</text>
<text x="666.5" y="1749.0" text-anchor="middle" style="font-family:'Liberation Sans',Arial,sans-serif;font-weight:bold;font-size:38px" fill="#000" letter-spacing="1.5">*</text>
<text x="728.0" y="1424.0" text-anchor="start" style="font-family:'Liberation Sans',Arial,sans-serif;font-weight:bold;font-size:42px" fill="#000">G</text>
<circle cx="902.7" cy="1415.4" r="5.6" fill="none" stroke="#000" stroke-width="2.4"/>
<text x="970.3" y="1425.7" text-anchor="start" style="font-family:'Liberation Sans',Arial,sans-serif;font-weight:bold;font-size:33px" fill="#000">60 min</text>
<rect x="897.4" y="1453.2" width="10.6" height="10.6" fill="none" stroke="#000" stroke-width="2.4"/>
<text x="970.3" y="1469.5" text-anchor="start" style="font-family:'Liberation Sans',Arial,sans-serif;font-weight:bold;font-size:33px" fill="#000">120 min</text>
<line x1="880.0" y1="1476.2" x2="880.0" y2="1919.7" stroke="#000" stroke-width="5.5" stroke-linecap="butt"/>
<line x1="855.5" y1="1478.9" x2="882.8" y2="1478.9" stroke="#000" stroke-width="5.5" stroke-linecap="butt"/>
<text x="848.5" y="1490.9" text-anchor="end" style="font-family:'Liberation Sans',Arial,sans-serif;font-weight:bold;font-size:33px" fill="#000">150</text>
<line x1="855.5" y1="1588.4" x2="882.8" y2="1588.4" stroke="#000" stroke-width="5.5" stroke-linecap="butt"/>
<text x="848.5" y="1600.4" text-anchor="end" style="font-family:'Liberation Sans',Arial,sans-serif;font-weight:bold;font-size:33px" fill="#000">100</text>
<line x1="855.5" y1="1697.9" x2="882.8" y2="1697.9" stroke="#000" stroke-width="5.5" stroke-linecap="butt"/>
<text x="848.5" y="1709.9" text-anchor="end" style="font-family:'Liberation Sans',Arial,sans-serif;font-weight:bold;font-size:33px" fill="#000">50</text>
<line x1="855.5" y1="1807.4" x2="882.8" y2="1807.4" stroke="#000" stroke-width="5.5" stroke-linecap="butt"/>
<text x="848.5" y="1819.4" text-anchor="end" style="font-family:'Liberation Sans',Arial,sans-serif;font-weight:bold;font-size:33px" fill="#000">0</text>
<line x1="855.5" y1="1916.9" x2="882.8" y2="1916.9" stroke="#000" stroke-width="5.5" stroke-linecap="butt"/>
<text x="848.5" y="1928.9" text-anchor="end" style="font-family:'Liberation Sans',Arial,sans-serif;font-weight:bold;font-size:33px" fill="#000">-50</text>
<line x1="855.5" y1="1916.9" x2="1401.0" y2="1916.9" stroke="#000" stroke-width="5.5" stroke-linecap="butt"/>
<line x1="930.9" y1="1916.9" x2="930.9" y2="1940.9" stroke="#000" stroke-width="5.5" stroke-linecap="butt"/>
<text x="930.9" y="1979.0" text-anchor="middle" style="font-family:'Liberation Sans',Arial,sans-serif;font-weight:bold;font-size:33px" fill="#000">0</text>
<line x1="1035.3" y1="1916.9" x2="1035.3" y2="1940.9" stroke="#000" stroke-width="5.5" stroke-linecap="butt"/>
<text x="1035.3" y="1979.0" text-anchor="middle" style="font-family:'Liberation Sans',Arial,sans-serif;font-weight:bold;font-size:33px" fill="#000">5</text>
<line x1="1139.0" y1="1916.9" x2="1139.0" y2="1940.9" stroke="#000" stroke-width="5.5" stroke-linecap="butt"/>
<text x="1139.0" y="1979.0" text-anchor="middle" style="font-family:'Liberation Sans',Arial,sans-serif;font-weight:bold;font-size:33px" fill="#000">10</text>
<line x1="1243.2" y1="1916.9" x2="1243.2" y2="1940.9" stroke="#000" stroke-width="5.5" stroke-linecap="butt"/>
<text x="1243.2" y="1979.0" text-anchor="middle" style="font-family:'Liberation Sans',Arial,sans-serif;font-weight:bold;font-size:33px" fill="#000">20</text>
<line x1="1346.6" y1="1916.9" x2="1346.6" y2="1940.9" stroke="#000" stroke-width="5.5" stroke-linecap="butt"/>
<text x="1346.6" y="1979.0" text-anchor="middle" style="font-family:'Liberation Sans',Arial,sans-serif;font-weight:bold;font-size:33px" fill="#000">GBP</text>
<rect x="897.9" y="1805.2" width="33.0" height="2.2" fill="#878787" stroke="#000" stroke-width="2.7"/>
<rect x="931.9" y="1806.3" width="34.0" height="1.1" fill="#d6d6d6" stroke="#000" stroke-width="2.7"/>
<rect x="1002.3" y="1730.8" width="33.0" height="76.7" fill="#878787" stroke="#000" stroke-width="2.7"/>
<rect x="1036.3" y="1744.5" width="34.0" height="62.9" fill="#d6d6d6" stroke="#000" stroke-width="2.7"/>
<rect x="1106.0" y="1682.6" width="33.0" height="124.8" fill="#878787" stroke="#000" stroke-width="2.7"/>
<rect x="1140.0" y="1680.4" width="34.0" height="127.0" fill="#d6d6d6" stroke="#000" stroke-width="2.7"/>
<rect x="1210.2" y="1581.0" width="33.0" height="226.4" fill="#878787" stroke="#000" stroke-width="2.7"/>
<rect x="1244.2" y="1591.9" width="34.0" height="215.5" fill="#d6d6d6" stroke="#000" stroke-width="2.7"/>
<rect x="1313.6" y="1590.6" width="33.0" height="216.8" fill="#878787" stroke="#000" stroke-width="2.7"/>
<rect x="1347.6" y="1581.8" width="34.0" height="225.6" fill="#d6d6d6" stroke="#000" stroke-width="2.7"/>
<line x1="880.0" y1="1807.4" x2="1399.0" y2="1807.4" stroke="#000" stroke-width="5" stroke-linecap="butt"/>
<rect x="900" y="1798" width="31" height="15" rx="7" fill="#000"/>
<rect x="943" y="1795" width="14" height="18" rx="2" fill="#000"/>
<rect x="1222" y="1563" width="16" height="12" rx="5" fill="#000"/>
<rect x="1256" y="1563" width="13" height="14" rx="1" fill="#000"/>
<rect x="1253" y="1582" width="17" height="10" rx="1" fill="#000"/>
<rect x="1325" y="1567" width="13" height="11" rx="5" fill="#000"/>
<rect x="1353" y="1561" width="25" height="15" rx="1" fill="#000"/>
<circle cx="904.6" cy="1804.0" r="5.9" fill="none" stroke="#000" stroke-width="2.6"/>
<circle cx="910.0" cy="1794.6" r="5.9" fill="none" stroke="#000" stroke-width="2.6"/>
<circle cx="915.5" cy="1774.5" r="5.9" fill="none" stroke="#000" stroke-width="2.6"/>
<circle cx="915.5" cy="1825.7" r="5.9" fill="none" stroke="#000" stroke-width="2.6"/>
<circle cx="912.0" cy="1806.0" r="5.9" fill="none" stroke="#000" stroke-width="2.6"/>
<circle cx="918.0" cy="1804.0" r="5.9" fill="none" stroke="#000" stroke-width="2.6"/>
<circle cx="924.0" cy="1806.0" r="5.9" fill="none" stroke="#000" stroke-width="2.6"/>
<circle cx="920.0" cy="1800.0" r="5.9" fill="none" stroke="#000" stroke-width="2.6"/>
<circle cx="906.0" cy="1808.0" r="5.9" fill="none" stroke="#000" stroke-width="2.6"/>
<circle cx="1019.0" cy="1561.6" r="5.9" fill="none" stroke="#000" stroke-width="2.6"/>
<circle cx="1008.0" cy="1690.5" r="5.9" fill="none" stroke="#000" stroke-width="2.6"/>
<circle cx="1030.6" cy="1696.0" r="5.9" fill="none" stroke="#000" stroke-width="2.6"/>
<circle cx="1008.0" cy="1747.0" r="5.9" fill="none" stroke="#000" stroke-width="2.6"/>
<circle cx="1030.6" cy="1752.0" r="5.9" fill="none" stroke="#000" stroke-width="2.6"/>
<circle cx="1008.0" cy="1776.3" r="5.9" fill="none" stroke="#000" stroke-width="2.6"/>
<circle cx="1030.6" cy="1785.5" r="5.9" fill="none" stroke="#000" stroke-width="2.6"/>
<circle cx="1019.0" cy="1825.7" r="5.9" fill="none" stroke="#000" stroke-width="2.6"/>
<circle cx="1122.6" cy="1568.9" r="5.9" fill="none" stroke="#000" stroke-width="2.6"/>
<circle cx="1122.6" cy="1632.0" r="5.9" fill="none" stroke="#000" stroke-width="2.6"/>
<circle cx="1111.7" cy="1671.5" r="5.9" fill="none" stroke="#000" stroke-width="2.6"/>
<circle cx="1134.7" cy="1661.3" r="5.9" fill="none" stroke="#000" stroke-width="2.6"/>
<circle cx="1122.6" cy="1715.4" r="5.9" fill="none" stroke="#000" stroke-width="2.6"/>
<circle cx="1111.0" cy="1725.2" r="5.9" fill="none" stroke="#000" stroke-width="2.6"/>
<circle cx="1134.0" cy="1731.4" r="5.9" fill="none" stroke="#000" stroke-width="2.6"/>
<circle cx="1122.6" cy="1746.4" r="5.9" fill="none" stroke="#000" stroke-width="2.6"/>
<circle cx="1211.0" cy="1570.0" r="5.9" fill="none" stroke="#000" stroke-width="2.6"/>
<circle cx="1218.0" cy="1568.0" r="5.9" fill="none" stroke="#000" stroke-width="2.6"/>
<circle cx="1225.0" cy="1566.0" r="5.9" fill="none" stroke="#000" stroke-width="2.6"/>
<circle cx="1232.0" cy="1568.0" r="5.9" fill="none" stroke="#000" stroke-width="2.6"/>
<circle cx="1240.0" cy="1570.0" r="5.9" fill="none" stroke="#000" stroke-width="2.6"/>
<circle cx="1222.4" cy="1616.7" r="5.9" fill="none" stroke="#000" stroke-width="2.6"/>
<circle cx="1229.7" cy="1613.8" r="5.9" fill="none" stroke="#000" stroke-width="2.6"/>
<circle cx="1226.0" cy="1572.0" r="5.9" fill="none" stroke="#000" stroke-width="2.6"/>
<circle cx="1317.0" cy="1566.0" r="5.9" fill="none" stroke="#000" stroke-width="2.6"/>
<circle cx="1324.0" cy="1570.0" r="5.9" fill="none" stroke="#000" stroke-width="2.6"/>
<circle cx="1331.0" cy="1573.0" r="5.9" fill="none" stroke="#000" stroke-width="2.6"/>
<circle cx="1338.0" cy="1570.0" r="5.9" fill="none" stroke="#000" stroke-width="2.6"/>
<circle cx="1346.0" cy="1568.0" r="5.9" fill="none" stroke="#000" stroke-width="2.6"/>
<circle cx="1335.6" cy="1612.0" r="5.9" fill="none" stroke="#000" stroke-width="2.6"/>
<circle cx="1330.0" cy="1619.3" r="5.9" fill="none" stroke="#000" stroke-width="2.6"/>
<circle cx="1330.0" cy="1641.2" r="5.9" fill="none" stroke="#000" stroke-width="2.6"/>
<rect x="932.5" y="1769.0" width="11.0" height="11.0" fill="none" stroke="#000" stroke-width="2.6"/>
<rect x="944.5" y="1776.3" width="11.0" height="11.0" fill="none" stroke="#000" stroke-width="2.6"/>
<rect x="955.5" y="1781.8" width="11.0" height="11.0" fill="none" stroke="#000" stroke-width="2.6"/>
<rect x="944.5" y="1787.3" width="11.0" height="11.0" fill="none" stroke="#000" stroke-width="2.6"/>
<rect x="944.5" y="1798.5" width="11.0" height="11.0" fill="none" stroke="#000" stroke-width="2.6"/>
<rect x="932.5" y="1823.1" width="11.0" height="11.0" fill="none" stroke="#000" stroke-width="2.6"/>
<rect x="944.5" y="1820.2" width="11.0" height="11.0" fill="none" stroke="#000" stroke-width="2.6"/>
<rect x="955.5" y="1820.2" width="11.0" height="11.0" fill="none" stroke="#000" stroke-width="2.6"/>
<rect x="936.5" y="1800.5" width="11.0" height="11.0" fill="none" stroke="#000" stroke-width="2.6"/>
<rect x="1047.0" y="1640.5" width="11.0" height="11.0" fill="none" stroke="#000" stroke-width="2.6"/>
<rect x="1036.8" y="1702.5" width="11.0" height="11.0" fill="none" stroke="#000" stroke-width="2.6"/>
<rect x="1058.7" y="1708.7" width="11.0" height="11.0" fill="none" stroke="#000" stroke-width="2.6"/>
<rect x="1036.8" y="1745.3" width="11.0" height="11.0" fill="none" stroke="#000" stroke-width="2.6"/>
<rect x="1058.7" y="1756.2" width="11.0" height="11.0" fill="none" stroke="#000" stroke-width="2.6"/>
<rect x="1047.0" y="1770.8" width="11.0" height="11.0" fill="none" stroke="#000" stroke-width="2.6"/>
<rect x="1058.7" y="1785.5" width="11.0" height="11.0" fill="none" stroke="#000" stroke-width="2.6"/>
<rect x="1036.8" y="1790.9" width="11.0" height="11.0" fill="none" stroke="#000" stroke-width="2.6"/>
<rect x="1152.9" y="1563.4" width="11.0" height="11.0" fill="none" stroke="#000" stroke-width="2.6"/>
<rect x="1152.9" y="1626.5" width="11.0" height="11.0" fill="none" stroke="#000" stroke-width="2.6"/>
<rect x="1140.9" y="1661.3" width="11.0" height="11.0" fill="none" stroke="#000" stroke-width="2.6"/>
<rect x="1163.9" y="1661.3" width="11.0" height="11.0" fill="none" stroke="#000" stroke-width="2.6"/>
<rect x="1152.9" y="1672.2" width="11.0" height="11.0" fill="none" stroke="#000" stroke-width="2.6"/>
<rect x="1140.9" y="1705.1" width="11.0" height="11.0" fill="none" stroke="#000" stroke-width="2.6"/>
<rect x="1163.9" y="1709.9" width="11.0" height="11.0" fill="none" stroke="#000" stroke-width="2.6"/>
<rect x="1152.9" y="1780.7" width="11.0" height="11.0" fill="none" stroke="#000" stroke-width="2.6"/>
<rect x="1246.1" y="1564.5" width="11.0" height="11.0" fill="none" stroke="#000" stroke-width="2.6"/>
<rect x="1253.5" y="1562.5" width="11.0" height="11.0" fill="none" stroke="#000" stroke-width="2.6"/>
<rect x="1261.5" y="1564.5" width="11.0" height="11.0" fill="none" stroke="#000" stroke-width="2.6"/>
<rect x="1269.8" y="1564.5" width="11.0" height="11.0" fill="none" stroke="#000" stroke-width="2.6"/>
<rect x="1251.5" y="1582.7" width="11.0" height="11.0" fill="none" stroke="#000" stroke-width="2.6"/>
<rect x="1260.7" y="1582.7" width="11.0" height="11.0" fill="none" stroke="#000" stroke-width="2.6"/>
<rect x="1255.2" y="1610.1" width="11.0" height="11.0" fill="none" stroke="#000" stroke-width="2.6"/>
<rect x="1255.2" y="1655.0" width="11.0" height="11.0" fill="none" stroke="#000" stroke-width="2.6"/>
<rect x="1348.5" y="1564.5" width="11.0" height="11.0" fill="none" stroke="#000" stroke-width="2.6"/>
<rect x="1355.5" y="1562.5" width="11.0" height="11.0" fill="none" stroke="#000" stroke-width="2.6"/>
<rect x="1362.5" y="1564.5" width="11.0" height="11.0" fill="none" stroke="#000" stroke-width="2.6"/>
<rect x="1369.5" y="1563.5" width="11.0" height="11.0" fill="none" stroke="#000" stroke-width="2.6"/>
<rect x="1375.5" y="1564.5" width="11.0" height="11.0" fill="none" stroke="#000" stroke-width="2.6"/>
<rect x="1359.4" y="1608.3" width="11.0" height="11.0" fill="none" stroke="#000" stroke-width="2.6"/>
<rect x="1359.4" y="1617.5" width="11.0" height="11.0" fill="none" stroke="#000" stroke-width="2.6"/>
<line x1="914.0" y1="1795.0" x2="914.0" y2="1815.0" stroke="#000" stroke-width="3" stroke-linecap="butt"/>
<line x1="905.5" y1="1795.0" x2="922.5" y2="1795.0" stroke="#000" stroke-width="3" stroke-linecap="butt"/>
<line x1="905.5" y1="1815.0" x2="922.5" y2="1815.0" stroke="#000" stroke-width="3" stroke-linecap="butt"/>
<line x1="948.0" y1="1790.0" x2="948.0" y2="1820.0" stroke="#000" stroke-width="3" stroke-linecap="butt"/>
<line x1="939.5" y1="1790.0" x2="956.5" y2="1790.0" stroke="#000" stroke-width="3" stroke-linecap="butt"/>
<line x1="939.5" y1="1820.0" x2="956.5" y2="1820.0" stroke="#000" stroke-width="3" stroke-linecap="butt"/>
<line x1="1019.0" y1="1701.5" x2="1019.0" y2="1757.0" stroke="#000" stroke-width="3" stroke-linecap="butt"/>
<line x1="1010.5" y1="1701.5" x2="1027.5" y2="1701.5" stroke="#000" stroke-width="3" stroke-linecap="butt"/>
<line x1="1010.5" y1="1757.0" x2="1027.5" y2="1757.0" stroke="#000" stroke-width="3" stroke-linecap="butt"/>
<line x1="1052.5" y1="1725.2" x2="1052.5" y2="1761.7" stroke="#000" stroke-width="3" stroke-linecap="butt"/>
<line x1="1044.0" y1="1725.2" x2="1061.0" y2="1725.2" stroke="#000" stroke-width="3" stroke-linecap="butt"/>
<line x1="1044.0" y1="1761.7" x2="1061.0" y2="1761.7" stroke="#000" stroke-width="3" stroke-linecap="butt"/>
<line x1="1122.6" y1="1658.4" x2="1122.6" y2="1703.3" stroke="#000" stroke-width="3" stroke-linecap="butt"/>
<line x1="1114.1" y1="1658.4" x2="1131.1" y2="1658.4" stroke="#000" stroke-width="3" stroke-linecap="butt"/>
<line x1="1114.1" y1="1703.3" x2="1131.1" y2="1703.3" stroke="#000" stroke-width="3" stroke-linecap="butt"/>
<line x1="1158.4" y1="1654.7" x2="1158.4" y2="1701.5" stroke="#000" stroke-width="3" stroke-linecap="butt"/>
<line x1="1149.9" y1="1654.7" x2="1166.9" y2="1654.7" stroke="#000" stroke-width="3" stroke-linecap="butt"/>
<line x1="1149.9" y1="1701.5" x2="1166.9" y2="1701.5" stroke="#000" stroke-width="3" stroke-linecap="butt"/>
<line x1="1226.0" y1="1570.0" x2="1226.0" y2="1587.5" stroke="#000" stroke-width="3" stroke-linecap="butt"/>
<line x1="1217.5" y1="1570.0" x2="1234.5" y2="1570.0" stroke="#000" stroke-width="3" stroke-linecap="butt"/>
<line x1="1217.5" y1="1587.5" x2="1234.5" y2="1587.5" stroke="#000" stroke-width="3" stroke-linecap="butt"/>
<line x1="1261.0" y1="1580.0" x2="1261.0" y2="1601.0" stroke="#000" stroke-width="3" stroke-linecap="butt"/>
<line x1="1252.5" y1="1580.0" x2="1269.5" y2="1580.0" stroke="#000" stroke-width="3" stroke-linecap="butt"/>
<line x1="1252.5" y1="1601.0" x2="1269.5" y2="1601.0" stroke="#000" stroke-width="3" stroke-linecap="butt"/>
<line x1="1330.0" y1="1577.0" x2="1330.0" y2="1601.0" stroke="#000" stroke-width="3" stroke-linecap="butt"/>
<line x1="1321.5" y1="1577.0" x2="1338.5" y2="1577.0" stroke="#000" stroke-width="3" stroke-linecap="butt"/>
<line x1="1321.5" y1="1601.0" x2="1338.5" y2="1601.0" stroke="#000" stroke-width="3" stroke-linecap="butt"/>
<line x1="1364.9" y1="1575.0" x2="1364.9" y2="1587.5" stroke="#000" stroke-width="3" stroke-linecap="butt"/>
<line x1="1356.4" y1="1575.0" x2="1373.4" y2="1575.0" stroke="#000" stroke-width="3" stroke-linecap="butt"/>
<line x1="1356.4" y1="1587.5" x2="1373.4" y2="1587.5" stroke="#000" stroke-width="3" stroke-linecap="butt"/>
<text x="1020.0" y="1554.4" text-anchor="middle" style="font-family:'Liberation Sans',Arial,sans-serif;font-weight:bold;font-size:38px" fill="#000" letter-spacing="1.5">**</text>
<text x="1053.0" y="1584.5" text-anchor="middle" style="font-family:'Liberation Sans',Arial,sans-serif;font-weight:bold;font-size:38px" fill="#000" letter-spacing="1.5">*</text>
<text x="1116.0" y="1547.0" text-anchor="middle" style="font-family:'Liberation Sans',Arial,sans-serif;font-weight:bold;font-size:38px" fill="#000" letter-spacing="1.5">***</text>
<text x="1160.5" y="1519.5" text-anchor="middle" style="font-family:'Liberation Sans',Arial,sans-serif;font-weight:bold;font-size:38px" fill="#000" letter-spacing="1.5">***</text>
<text x="1227.5" y="1496.0" text-anchor="middle" style="font-family:'Liberation Sans',Arial,sans-serif;font-weight:bold;font-size:38px" fill="#000" letter-spacing="1.5">***</text>
<text x="1264.0" y="1523.4" text-anchor="middle" style="font-family:'Liberation Sans',Arial,sans-serif;font-weight:bold;font-size:38px" fill="#000" letter-spacing="1.5">***</text>
<text x="1327.9" y="1517.7" text-anchor="middle" style="font-family:'Liberation Sans',Arial,sans-serif;font-weight:bold;font-size:38px" fill="#000" letter-spacing="1.5">***</text>
<text x="1364.5" y="1544.2" text-anchor="middle" style="font-family:'Liberation Sans',Arial,sans-serif;font-weight:bold;font-size:38px" fill="#000" letter-spacing="1.5">***</text>
<text x="994.0" y="2019.0" text-anchor="start" style="font-family:'Liberation Sans',Arial,sans-serif;font-weight:bold;font-size:33.2px" fill="#000">VVZ-2868 (mg/kg)</text>
<text x="767.6" y="1703.0" text-anchor="middle" style="font-family:'Liberation Sans',Arial,sans-serif;font-weight:bold;font-size:32.6px" fill="#000" transform="rotate(-90 767.6 1703.0)">% Reversal</text>
<text x="1503.0" y="1423.5" text-anchor="start" style="font-family:'Liberation Sans',Arial,sans-serif;font-weight:bold;font-size:42px" fill="#000">H</text>
<line x1="1638.0" y1="1478.3" x2="1638.0" y2="1917.8" stroke="#000" stroke-width="5.5" stroke-linecap="butt"/>
<line x1="1613.5" y1="1481.1" x2="1640.8" y2="1481.1" stroke="#000" stroke-width="5.5" stroke-linecap="butt"/>
<text x="1604.5" y="1493.1" text-anchor="end" style="font-family:'Liberation Sans',Arial,sans-serif;font-weight:bold;font-size:33px" fill="#000">150</text>
<line x1="1613.5" y1="1589.6" x2="1640.8" y2="1589.6" stroke="#000" stroke-width="5.5" stroke-linecap="butt"/>
<text x="1604.5" y="1601.6" text-anchor="end" style="font-family:'Liberation Sans',Arial,sans-serif;font-weight:bold;font-size:33px" fill="#000">100</text>
<line x1="1613.5" y1="1698.1" x2="1640.8" y2="1698.1" stroke="#000" stroke-width="5.5" stroke-linecap="butt"/>
<text x="1604.5" y="1710.1" text-anchor="end" style="font-family:'Liberation Sans',Arial,sans-serif;font-weight:bold;font-size:33px" fill="#000">50</text>
<line x1="1613.5" y1="1806.6" x2="1640.8" y2="1806.6" stroke="#000" stroke-width="5.5" stroke-linecap="butt"/>
<text x="1604.5" y="1818.6" text-anchor="end" style="font-family:'Liberation Sans',Arial,sans-serif;font-weight:bold;font-size:33px" fill="#000">0</text>
<line x1="1613.5" y1="1915.1" x2="1640.8" y2="1915.1" stroke="#000" stroke-width="5.5" stroke-linecap="butt"/>
<text x="1604.5" y="1927.1" text-anchor="end" style="font-family:'Liberation Sans',Arial,sans-serif;font-weight:bold;font-size:33px" fill="#000">-50</text>
<line x1="1613.5" y1="1806.6" x2="2163.2" y2="1806.6" stroke="#000" stroke-width="5.5" stroke-linecap="butt"/>
<line x1="1742.5" y1="1806.6" x2="1742.5" y2="1831.6" stroke="#000" stroke-width="5.5" stroke-linecap="butt"/>
<text x="1742.5" y="1872.0" text-anchor="middle" style="font-family:'Liberation Sans',Arial,sans-serif;font-weight:bold;font-size:33px" fill="#000">5</text>
<line x1="1847.0" y1="1806.6" x2="1847.0" y2="1831.6" stroke="#000" stroke-width="5.5" stroke-linecap="butt"/>
<text x="1847.0" y="1872.0" text-anchor="middle" style="font-family:'Liberation Sans',Arial,sans-serif;font-weight:bold;font-size:33px" fill="#000">10</text>
<line x1="1951.5" y1="1806.6" x2="1951.5" y2="1831.6" stroke="#000" stroke-width="5.5" stroke-linecap="butt"/>
<text x="1951.5" y="1872.0" text-anchor="middle" style="font-family:'Liberation Sans',Arial,sans-serif;font-weight:bold;font-size:33px" fill="#000">15</text>
<line x1="2056.0" y1="1806.6" x2="2056.0" y2="1831.6" stroke="#000" stroke-width="5.5" stroke-linecap="butt"/>
<text x="2056.0" y="1872.0" text-anchor="middle" style="font-family:'Liberation Sans',Arial,sans-serif;font-weight:bold;font-size:33px" fill="#000">20</text>
<line x1="2160.5" y1="1806.6" x2="2160.5" y2="1831.6" stroke="#000" stroke-width="5.5" stroke-linecap="butt"/>
<text x="2160.5" y="1872.0" text-anchor="middle" style="font-family:'Liberation Sans',Arial,sans-serif;font-weight:bold;font-size:33px" fill="#000">25</text>
<polyline points="1658.9,1805.3 1661.0,1804.9 1663.1,1804.5 1665.2,1804.1 1667.3,1803.6 1669.3,1803.0 1671.4,1802.4 1673.5,1801.7 1675.6,1801.0 1677.7,1800.2 1679.8,1799.3 1681.9,1798.4 1684.0,1797.4 1686.1,1796.4 1688.2,1795.3 1690.2,1794.2 1692.3,1793.0 1694.4,1791.7 1696.5,1790.4 1698.6,1789.1 1700.7,1787.7 1702.8,1786.2 1704.9,1784.7 1707.0,1783.1 1709.1,1781.5 1711.2,1779.8 1713.2,1778.1 1715.3,1776.4 1717.4,1774.6 1719.5,1772.8 1721.6,1771.0 1723.7,1769.1 1725.8,1767.2 1727.9,1765.3 1730.0,1763.3 1732.0,1761.3 1734.1,1759.3 1736.2,1757.3 1738.3,1755.3 1740.4,1753.2 1742.5,1751.2 1744.6,1749.1 1746.7,1747.0 1748.8,1744.9 1750.9,1742.9 1752.9,1740.8 1755.0,1738.7 1757.1,1736.6 1759.2,1734.5 1761.3,1732.5 1763.4,1730.4 1765.5,1728.3 1767.6,1726.3 1769.7,1724.3 1771.8,1722.2 1773.8,1720.2 1775.9,1718.2 1778.0,1716.3 1780.1,1714.3 1782.2,1712.4 1784.3,1710.4 1786.4,1708.5 1788.5,1706.7 1790.6,1704.8 1792.7,1703.0 1794.7,1701.1 1796.8,1699.3 1798.9,1697.6 1801.0,1695.8 1803.1,1694.1 1805.2,1692.4 1807.3,1690.7 1809.4,1689.1 1811.5,1687.4 1813.6,1685.8 1815.6,1684.2 1817.7,1682.7 1819.8,1681.2 1821.9,1679.6 1824.0,1678.2 1826.1,1676.7 1828.2,1675.3 1830.3,1673.8 1832.4,1672.5 1834.5,1671.1 1836.5,1669.8 1838.6,1668.4 1840.7,1667.1 1842.8,1665.9 1844.9,1664.6 1847.0,1663.4 1849.1,1662.2 1851.2,1661.0 1853.3,1659.8 1855.4,1658.7 1857.4,1657.6 1859.5,1656.5 1861.6,1655.4 1863.7,1654.3 1865.8,1653.3 1867.9,1652.3 1870.0,1651.3 1872.1,1650.3 1874.2,1649.3 1876.3,1648.4 1878.3,1647.4 1880.4,1646.5 1882.5,1645.6 1884.6,1644.7 1886.7,1643.9 1888.8,1643.0 1890.9,1642.2 1893.0,1641.4 1895.1,1640.6 1897.2,1639.8 1899.2,1639.0 1901.3,1638.3 1903.4,1637.5 1905.5,1636.8 1907.6,1636.1 1909.7,1635.4 1911.8,1634.7 1913.9,1634.0 1916.0,1633.4 1918.1,1632.7 1920.1,1632.1 1922.2,1631.4 1924.3,1630.8 1926.4,1630.2 1928.5,1629.6 1930.6,1629.0 1932.7,1628.5 1934.8,1627.9 1936.9,1627.4 1939.0,1626.8 1941.0,1626.3 1943.1,1625.8 1945.2,1625.3 1947.3,1624.8 1949.4,1624.3 1951.5,1623.8 1953.6,1623.3 1955.7,1622.8 1957.8,1622.4 1959.9,1621.9 1961.9,1621.5 1964.0,1621.1 1966.1,1620.6 1968.2,1620.2 1970.3,1619.8 1972.4,1619.4 1974.5,1619.0 1976.6,1618.6 1978.7,1618.2 1980.8,1617.8 1982.8,1617.5 1984.9,1617.1 1987.0,1616.7 1989.1,1616.4 1991.2,1616.0 1993.3,1615.7 1995.4,1615.4 1997.5,1615.0 1999.6,1614.7 2001.7,1614.4 2003.7,1614.1 2005.8,1613.8 2007.9,1613.5 2010.0,1613.2 2012.1,1612.9 2014.2,1612.6 2016.3,1612.3 2018.4,1612.0 2020.5,1611.8 2022.6,1611.5 2024.6,1611.2 2026.7,1611.0 2028.8,1610.7 2030.9,1610.5 2033.0,1610.2 2035.1,1610.0 2037.2,1609.7 2039.3,1609.5 2041.4,1609.2 2043.5,1609.0 2045.6,1608.8 2047.6,1608.6 2049.7,1608.4 2051.8,1608.1 2053.9,1607.9 2056.0,1607.7" fill="none" stroke="#000" stroke-width="2.4" stroke-linejoin="round"/>
<line x1="1638.0" y1="1802.9" x2="1638.0" y2="1802.9" stroke="#000" stroke-width="3.2" stroke-linecap="butt"/>
<line x1="1629.5" y1="1802.9" x2="1646.5" y2="1802.9" stroke="#000" stroke-width="3.2" stroke-linecap="butt"/>
<line x1="1629.5" y1="1802.9" x2="1646.5" y2="1802.9" stroke="#000" stroke-width="3.2" stroke-linecap="butt"/>
<circle cx="1638.0" cy="1802.9" r="9.0" fill="#000"/>
<line x1="1742.5" y1="1725.2" x2="1742.5" y2="1761.2" stroke="#000" stroke-width="3.2" stroke-linecap="butt"/>
<line x1="1734.0" y1="1725.2" x2="1751.0" y2="1725.2" stroke="#000" stroke-width="3.2" stroke-linecap="butt"/>
<line x1="1734.0" y1="1761.2" x2="1751.0" y2="1761.2" stroke="#000" stroke-width="3.2" stroke-linecap="butt"/>
<circle cx="1742.5" cy="1743.2" r="9.0" fill="#000"/>
<line x1="1847.0" y1="1656.2" x2="1847.0" y2="1701.4" stroke="#000" stroke-width="3.2" stroke-linecap="butt"/>
<line x1="1838.5" y1="1656.2" x2="1855.5" y2="1656.2" stroke="#000" stroke-width="3.2" stroke-linecap="butt"/>
<line x1="1838.5" y1="1701.4" x2="1855.5" y2="1701.4" stroke="#000" stroke-width="3.2" stroke-linecap="butt"/>
<circle cx="1847.0" cy="1678.8" r="9.0" fill="#000"/>
<line x1="2056.0" y1="1580.1" x2="2056.0" y2="1603.9" stroke="#000" stroke-width="3.2" stroke-linecap="butt"/>
<line x1="2047.5" y1="1580.1" x2="2064.5" y2="1580.1" stroke="#000" stroke-width="3.2" stroke-linecap="butt"/>
<line x1="2047.5" y1="1603.9" x2="2064.5" y2="1603.9" stroke="#000" stroke-width="3.2" stroke-linecap="butt"/>
<circle cx="2056.0" cy="1592.0" r="9.0" fill="#000"/>
<text x="1900.5" y="1924.7" text-anchor="middle" style="font-family:'Liberation Sans',Arial,sans-serif;font-weight:bold;font-size:32.6px" fill="#000">Dose (mg/kg)</text>
<text x="1526.2" y="1704.0" text-anchor="middle" style="font-family:'Liberation Sans',Arial,sans-serif;font-weight:bold;font-size:32.6px" fill="#000" transform="rotate(-90 1526.2 1704.0)">% Reversal</text>
<text x="1688.0" y="1527.5" text-anchor="start" style="font-family:'Liberation Sans',Arial,sans-serif;font-weight:bold;font-size:32.7px" fill="#000">120 min</text>
<text x="1689" y="1579.7" style="font-family:'Liberation Sans',Arial,sans-serif;font-weight:normal;font-size:33px" fill="#2e2e2e">ED<tspan font-size="20" dy="6.5">50</tspan><tspan dy="-6.5"> = 7.670</tspan></text>
</svg></body></html>
